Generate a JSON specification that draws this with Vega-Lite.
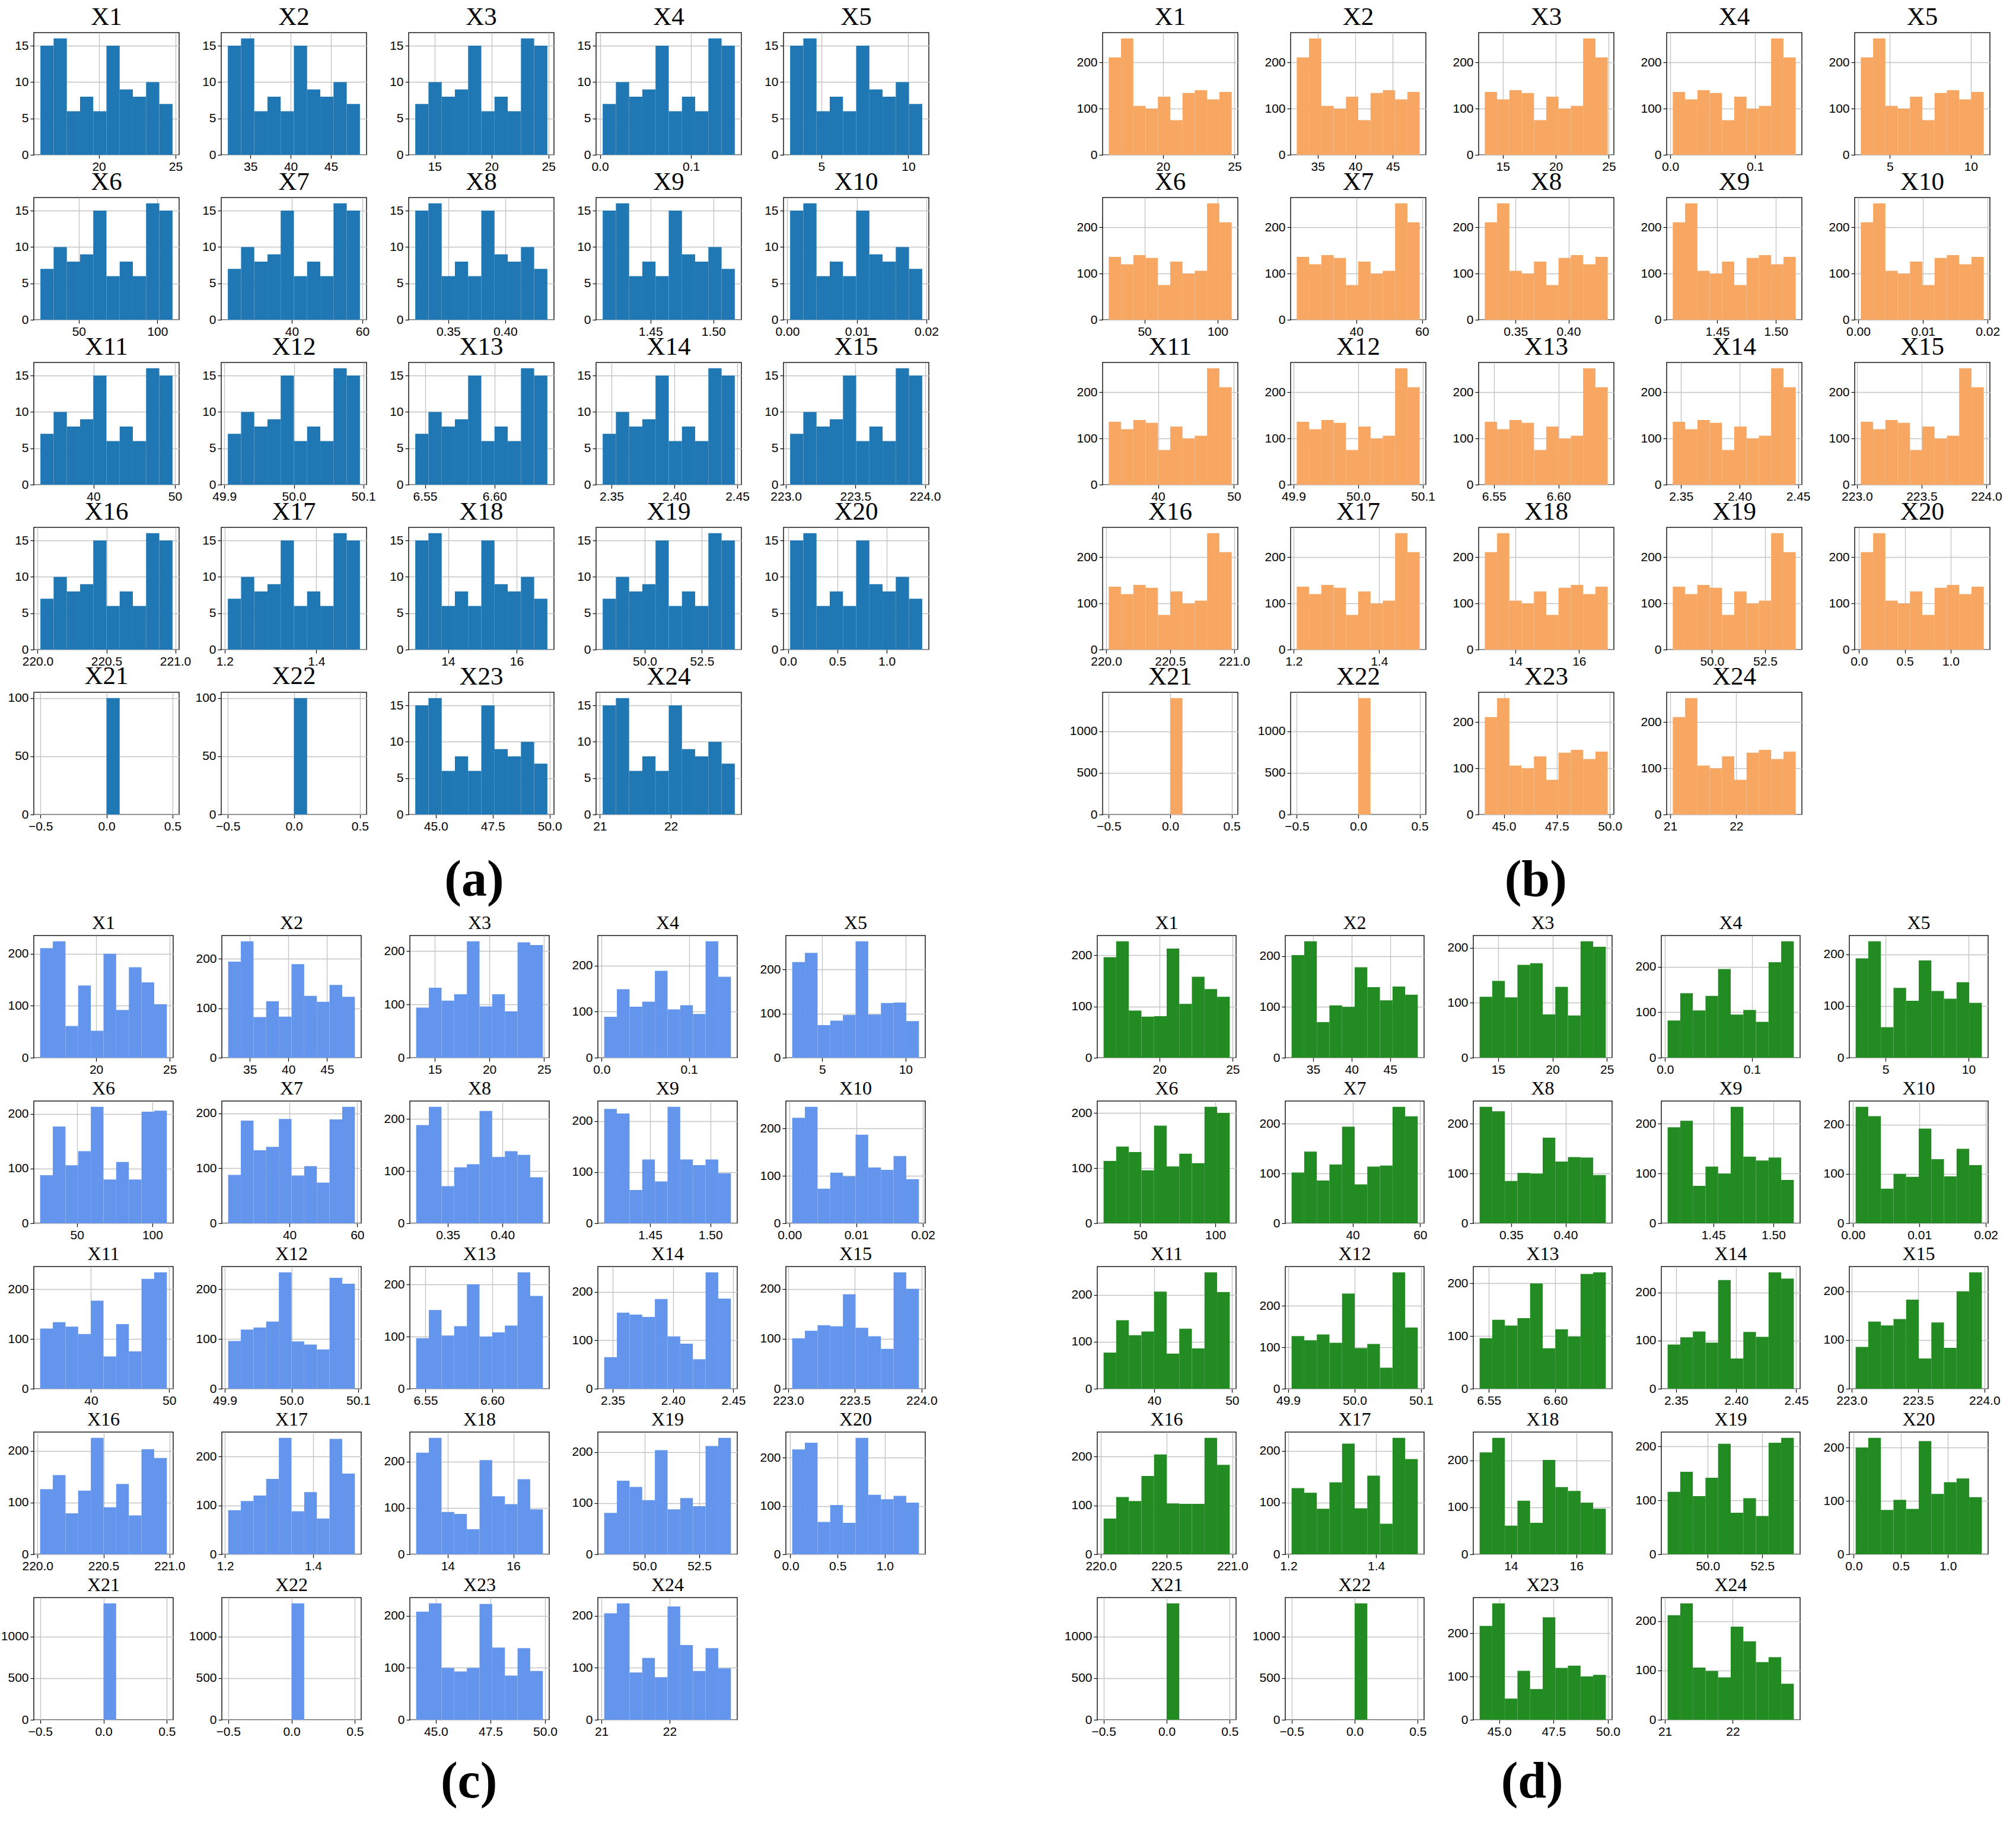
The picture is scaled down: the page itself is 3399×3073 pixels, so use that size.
{
"$schema":"https://vega.github.io/schema/vega-lite/v6.json",
"padding":{"left":0,"top":7,"right":10,"bottom":24},
"background":"white",
"datasets":{
"a":[
{"v":"X1","x0":16.2,"x1":17.06,"c":15},{"v":"X1","x0":17.06,"x1":17.92,"c":16},{"v":"X1","x0":17.92,"x1":18.78,"c":6},{"v":"X1","x0":18.78,"x1":19.64,"c":8},{"v":"X1","x0":19.64,"x1":20.5,"c":6},{"v":"X1","x0":20.5,"x1":21.36,"c":15},{"v":"X1","x0":21.36,"x1":22.22,"c":9},{"v":"X1","x0":22.22,"x1":23.08,"c":8},{"v":"X1","x0":23.08,"x1":23.94,"c":10},{"v":"X1","x0":23.94,"x1":24.8,"c":7},
{"v":"X2","x0":32.2,"x1":33.84,"c":15},{"v":"X2","x0":33.84,"x1":35.48,"c":16},{"v":"X2","x0":35.48,"x1":37.12,"c":6},{"v":"X2","x0":37.12,"x1":38.76,"c":8},{"v":"X2","x0":38.76,"x1":40.4,"c":6},{"v":"X2","x0":40.4,"x1":42.04,"c":15},{"v":"X2","x0":42.04,"x1":43.68,"c":9},{"v":"X2","x0":43.68,"x1":45.32,"c":8},{"v":"X2","x0":45.32,"x1":46.96,"c":10},{"v":"X2","x0":46.96,"x1":48.6,"c":7},
{"v":"X3","x0":13.3,"x1":14.46,"c":7},{"v":"X3","x0":14.46,"x1":15.62,"c":10},{"v":"X3","x0":15.62,"x1":16.78,"c":8},{"v":"X3","x0":16.78,"x1":17.94,"c":9},{"v":"X3","x0":17.94,"x1":19.1,"c":15},{"v":"X3","x0":19.1,"x1":20.26,"c":6},{"v":"X3","x0":20.26,"x1":21.42,"c":8},{"v":"X3","x0":21.42,"x1":22.58,"c":6},{"v":"X3","x0":22.58,"x1":23.74,"c":16},{"v":"X3","x0":23.74,"x1":24.9,"c":15},
{"v":"X4","x0":0.003,"x1":0.0175,"c":7},{"v":"X4","x0":0.0175,"x1":0.032,"c":10},{"v":"X4","x0":0.032,"x1":0.0465,"c":8},{"v":"X4","x0":0.0465,"x1":0.061,"c":9},{"v":"X4","x0":0.061,"x1":0.0755,"c":15},{"v":"X4","x0":0.0755,"x1":0.09,"c":6},{"v":"X4","x0":0.09,"x1":0.1045,"c":8},{"v":"X4","x0":0.1045,"x1":0.119,"c":6},{"v":"X4","x0":0.119,"x1":0.1335,"c":16},{"v":"X4","x0":0.1335,"x1":0.148,"c":15},
{"v":"X5","x0":3.2,"x1":3.96,"c":15},{"v":"X5","x0":3.96,"x1":4.72,"c":16},{"v":"X5","x0":4.72,"x1":5.48,"c":6},{"v":"X5","x0":5.48,"x1":6.24,"c":8},{"v":"X5","x0":6.24,"x1":7,"c":6},{"v":"X5","x0":7,"x1":7.76,"c":15},{"v":"X5","x0":7.76,"x1":8.52,"c":9},{"v":"X5","x0":8.52,"x1":9.28,"c":8},{"v":"X5","x0":9.28,"x1":10.04,"c":10},{"v":"X5","x0":10.04,"x1":10.8,"c":7},
{"v":"X6","x0":25.6,"x1":34,"c":7},{"v":"X6","x0":34,"x1":42.4,"c":10},{"v":"X6","x0":42.4,"x1":50.8,"c":8},{"v":"X6","x0":50.8,"x1":59.2,"c":9},{"v":"X6","x0":59.2,"x1":67.6,"c":15},{"v":"X6","x0":67.6,"x1":76,"c":6},{"v":"X6","x0":76,"x1":84.4,"c":8},{"v":"X6","x0":84.4,"x1":92.8,"c":6},{"v":"X6","x0":92.8,"x1":101.2,"c":16},{"v":"X6","x0":101.2,"x1":109.6,"c":15},
{"v":"X7","x0":21.9,"x1":25.64,"c":7},{"v":"X7","x0":25.64,"x1":29.38,"c":10},{"v":"X7","x0":29.38,"x1":33.12,"c":8},{"v":"X7","x0":33.12,"x1":36.86,"c":9},{"v":"X7","x0":36.86,"x1":40.6,"c":15},{"v":"X7","x0":40.6,"x1":44.34,"c":6},{"v":"X7","x0":44.34,"x1":48.08,"c":8},{"v":"X7","x0":48.08,"x1":51.82,"c":6},{"v":"X7","x0":51.82,"x1":55.56,"c":16},{"v":"X7","x0":55.56,"x1":59.3,"c":15},
{"v":"X8","x0":0.321,"x1":0.3326,"c":15},{"v":"X8","x0":0.3326,"x1":0.3442,"c":16},{"v":"X8","x0":0.3442,"x1":0.3558,"c":6},{"v":"X8","x0":0.3558,"x1":0.3674,"c":8},{"v":"X8","x0":0.3674,"x1":0.379,"c":6},{"v":"X8","x0":0.379,"x1":0.3906,"c":15},{"v":"X8","x0":0.3906,"x1":0.4022,"c":9},{"v":"X8","x0":0.4022,"x1":0.4138,"c":8},{"v":"X8","x0":0.4138,"x1":0.4254,"c":10},{"v":"X8","x0":0.4254,"x1":0.437,"c":7},
{"v":"X9","x0":1.412,"x1":1.4225,"c":15},{"v":"X9","x0":1.4225,"x1":1.433,"c":16},{"v":"X9","x0":1.433,"x1":1.4435,"c":6},{"v":"X9","x0":1.4435,"x1":1.454,"c":8},{"v":"X9","x0":1.454,"x1":1.4645,"c":6},{"v":"X9","x0":1.4645,"x1":1.475,"c":15},{"v":"X9","x0":1.475,"x1":1.4855,"c":9},{"v":"X9","x0":1.4855,"x1":1.496,"c":8},{"v":"X9","x0":1.496,"x1":1.5065,"c":10},{"v":"X9","x0":1.5065,"x1":1.517,"c":7},
{"v":"X10","x0":0.0004,"x1":0.0023,"c":15},{"v":"X10","x0":0.0023,"x1":0.0042,"c":16},{"v":"X10","x0":0.0042,"x1":0.0061,"c":6},{"v":"X10","x0":0.0061,"x1":0.008,"c":8},{"v":"X10","x0":0.008,"x1":0.0099,"c":6},{"v":"X10","x0":0.0099,"x1":0.0118,"c":15},{"v":"X10","x0":0.0118,"x1":0.0137,"c":9},{"v":"X10","x0":0.0137,"x1":0.0156,"c":8},{"v":"X10","x0":0.0156,"x1":0.0175,"c":10},{"v":"X10","x0":0.0175,"x1":0.0194,"c":7},
{"v":"X11","x0":33.5,"x1":35.12,"c":7},{"v":"X11","x0":35.12,"x1":36.74,"c":10},{"v":"X11","x0":36.74,"x1":38.36,"c":8},{"v":"X11","x0":38.36,"x1":39.98,"c":9},{"v":"X11","x0":39.98,"x1":41.6,"c":15},{"v":"X11","x0":41.6,"x1":43.22,"c":6},{"v":"X11","x0":43.22,"x1":44.84,"c":8},{"v":"X11","x0":44.84,"x1":46.46,"c":6},{"v":"X11","x0":46.46,"x1":48.08,"c":16},{"v":"X11","x0":48.08,"x1":49.7,"c":15},
{"v":"X12","x0":49.905,"x1":49.924,"c":7},{"v":"X12","x0":49.924,"x1":49.943,"c":10},{"v":"X12","x0":49.943,"x1":49.962,"c":8},{"v":"X12","x0":49.962,"x1":49.981,"c":9},{"v":"X12","x0":49.981,"x1":50,"c":15},{"v":"X12","x0":50,"x1":50.019,"c":6},{"v":"X12","x0":50.019,"x1":50.038,"c":8},{"v":"X12","x0":50.038,"x1":50.057,"c":6},{"v":"X12","x0":50.057,"x1":50.076,"c":16},{"v":"X12","x0":50.076,"x1":50.095,"c":15},
{"v":"X13","x0":6.543,"x1":6.5525,"c":7},{"v":"X13","x0":6.5525,"x1":6.562,"c":10},{"v":"X13","x0":6.562,"x1":6.5715,"c":8},{"v":"X13","x0":6.5715,"x1":6.581,"c":9},{"v":"X13","x0":6.581,"x1":6.5905,"c":15},{"v":"X13","x0":6.5905,"x1":6.6,"c":6},{"v":"X13","x0":6.6,"x1":6.6095,"c":8},{"v":"X13","x0":6.6095,"x1":6.619,"c":6},{"v":"X13","x0":6.619,"x1":6.6285,"c":16},{"v":"X13","x0":6.6285,"x1":6.638,"c":15},
{"v":"X14","x0":2.343,"x1":2.3535,"c":7},{"v":"X14","x0":2.3535,"x1":2.364,"c":10},{"v":"X14","x0":2.364,"x1":2.3745,"c":8},{"v":"X14","x0":2.3745,"x1":2.385,"c":9},{"v":"X14","x0":2.385,"x1":2.3955,"c":15},{"v":"X14","x0":2.3955,"x1":2.406,"c":6},{"v":"X14","x0":2.406,"x1":2.4165,"c":8},{"v":"X14","x0":2.4165,"x1":2.427,"c":6},{"v":"X14","x0":2.427,"x1":2.4375,"c":16},{"v":"X14","x0":2.4375,"x1":2.448,"c":15},
{"v":"X15","x0":223.03,"x1":223.125,"c":7},{"v":"X15","x0":223.125,"x1":223.22,"c":10},{"v":"X15","x0":223.22,"x1":223.315,"c":8},{"v":"X15","x0":223.315,"x1":223.41,"c":9},{"v":"X15","x0":223.41,"x1":223.505,"c":15},{"v":"X15","x0":223.505,"x1":223.6,"c":6},{"v":"X15","x0":223.6,"x1":223.695,"c":8},{"v":"X15","x0":223.695,"x1":223.79,"c":6},{"v":"X15","x0":223.79,"x1":223.885,"c":16},{"v":"X15","x0":223.885,"x1":223.98,"c":15},
{"v":"X16","x0":220.02,"x1":220.116,"c":7},{"v":"X16","x0":220.116,"x1":220.212,"c":10},{"v":"X16","x0":220.212,"x1":220.308,"c":8},{"v":"X16","x0":220.308,"x1":220.404,"c":9},{"v":"X16","x0":220.404,"x1":220.5,"c":15},{"v":"X16","x0":220.5,"x1":220.596,"c":6},{"v":"X16","x0":220.596,"x1":220.692,"c":8},{"v":"X16","x0":220.692,"x1":220.788,"c":6},{"v":"X16","x0":220.788,"x1":220.884,"c":16},{"v":"X16","x0":220.884,"x1":220.98,"c":15},
{"v":"X17","x0":1.207,"x1":1.2358,"c":7},{"v":"X17","x0":1.2358,"x1":1.2646,"c":10},{"v":"X17","x0":1.2646,"x1":1.2934,"c":8},{"v":"X17","x0":1.2934,"x1":1.3222,"c":9},{"v":"X17","x0":1.3222,"x1":1.351,"c":15},{"v":"X17","x0":1.351,"x1":1.3798,"c":6},{"v":"X17","x0":1.3798,"x1":1.4086,"c":8},{"v":"X17","x0":1.4086,"x1":1.4374,"c":6},{"v":"X17","x0":1.4374,"x1":1.4662,"c":16},{"v":"X17","x0":1.4662,"x1":1.495,"c":15},
{"v":"X18","x0":13.04,"x1":13.426,"c":15},{"v":"X18","x0":13.426,"x1":13.812,"c":16},{"v":"X18","x0":13.812,"x1":14.198,"c":6},{"v":"X18","x0":14.198,"x1":14.584,"c":8},{"v":"X18","x0":14.584,"x1":14.97,"c":6},{"v":"X18","x0":14.97,"x1":15.356,"c":15},{"v":"X18","x0":15.356,"x1":15.742,"c":9},{"v":"X18","x0":15.742,"x1":16.128,"c":8},{"v":"X18","x0":16.128,"x1":16.514,"c":10},{"v":"X18","x0":16.514,"x1":16.9,"c":7},
{"v":"X19","x0":48.16,"x1":48.738,"c":7},{"v":"X19","x0":48.738,"x1":49.316,"c":10},{"v":"X19","x0":49.316,"x1":49.894,"c":8},{"v":"X19","x0":49.894,"x1":50.472,"c":9},{"v":"X19","x0":50.472,"x1":51.05,"c":15},{"v":"X19","x0":51.05,"x1":51.628,"c":6},{"v":"X19","x0":51.628,"x1":52.206,"c":8},{"v":"X19","x0":52.206,"x1":52.784,"c":6},{"v":"X19","x0":52.784,"x1":53.362,"c":16},{"v":"X19","x0":53.362,"x1":53.94,"c":15},
{"v":"X20","x0":0.02,"x1":0.154,"c":15},{"v":"X20","x0":0.154,"x1":0.288,"c":16},{"v":"X20","x0":0.288,"x1":0.422,"c":6},{"v":"X20","x0":0.422,"x1":0.556,"c":8},{"v":"X20","x0":0.556,"x1":0.69,"c":6},{"v":"X20","x0":0.69,"x1":0.824,"c":15},{"v":"X20","x0":0.824,"x1":0.958,"c":9},{"v":"X20","x0":0.958,"x1":1.092,"c":8},{"v":"X20","x0":1.092,"x1":1.226,"c":10},{"v":"X20","x0":1.226,"x1":1.36,"c":7},
{"v":"X21","x0":0,"x1":0.1,"c":100},{"v":"X22","x0":0,"x1":0.1,"c":100},
{"v":"X23","x0":44.1,"x1":44.68,"c":15},{"v":"X23","x0":44.68,"x1":45.26,"c":16},{"v":"X23","x0":45.26,"x1":45.84,"c":6},{"v":"X23","x0":45.84,"x1":46.42,"c":8},{"v":"X23","x0":46.42,"x1":47,"c":6},{"v":"X23","x0":47,"x1":47.58,"c":15},{"v":"X23","x0":47.58,"x1":48.16,"c":9},{"v":"X23","x0":48.16,"x1":48.74,"c":8},{"v":"X23","x0":48.74,"x1":49.32,"c":10},{"v":"X23","x0":49.32,"x1":49.9,"c":7},
{"v":"X24","x0":21.04,"x1":21.226,"c":15},{"v":"X24","x0":21.226,"x1":21.412,"c":16},{"v":"X24","x0":21.412,"x1":21.598,"c":6},{"v":"X24","x0":21.598,"x1":21.784,"c":8},{"v":"X24","x0":21.784,"x1":21.97,"c":6},{"v":"X24","x0":21.97,"x1":22.156,"c":15},{"v":"X24","x0":22.156,"x1":22.342,"c":9},{"v":"X24","x0":22.342,"x1":22.528,"c":8},{"v":"X24","x0":22.528,"x1":22.714,"c":10},{"v":"X24","x0":22.714,"x1":22.9,"c":7}
],
"b":[
{"v":"X1","x0":16.2,"x1":17.06,"c":211},{"v":"X1","x0":17.06,"x1":17.92,"c":252},{"v":"X1","x0":17.92,"x1":18.78,"c":106},{"v":"X1","x0":18.78,"x1":19.64,"c":100},{"v":"X1","x0":19.64,"x1":20.5,"c":126},{"v":"X1","x0":20.5,"x1":21.36,"c":75},{"v":"X1","x0":21.36,"x1":22.22,"c":134},{"v":"X1","x0":22.22,"x1":23.08,"c":140},{"v":"X1","x0":23.08,"x1":23.94,"c":120},{"v":"X1","x0":23.94,"x1":24.8,"c":136},
{"v":"X2","x0":32.2,"x1":33.84,"c":211},{"v":"X2","x0":33.84,"x1":35.48,"c":252},{"v":"X2","x0":35.48,"x1":37.12,"c":106},{"v":"X2","x0":37.12,"x1":38.76,"c":100},{"v":"X2","x0":38.76,"x1":40.4,"c":126},{"v":"X2","x0":40.4,"x1":42.04,"c":75},{"v":"X2","x0":42.04,"x1":43.68,"c":134},{"v":"X2","x0":43.68,"x1":45.32,"c":140},{"v":"X2","x0":45.32,"x1":46.96,"c":120},{"v":"X2","x0":46.96,"x1":48.6,"c":136},
{"v":"X3","x0":13.3,"x1":14.46,"c":136},{"v":"X3","x0":14.46,"x1":15.62,"c":120},{"v":"X3","x0":15.62,"x1":16.78,"c":140},{"v":"X3","x0":16.78,"x1":17.94,"c":134},{"v":"X3","x0":17.94,"x1":19.1,"c":75},{"v":"X3","x0":19.1,"x1":20.26,"c":126},{"v":"X3","x0":20.26,"x1":21.42,"c":100},{"v":"X3","x0":21.42,"x1":22.58,"c":106},{"v":"X3","x0":22.58,"x1":23.74,"c":252},{"v":"X3","x0":23.74,"x1":24.9,"c":211},
{"v":"X4","x0":0.003,"x1":0.0175,"c":136},{"v":"X4","x0":0.0175,"x1":0.032,"c":120},{"v":"X4","x0":0.032,"x1":0.0465,"c":140},{"v":"X4","x0":0.0465,"x1":0.061,"c":134},{"v":"X4","x0":0.061,"x1":0.0755,"c":75},{"v":"X4","x0":0.0755,"x1":0.09,"c":126},{"v":"X4","x0":0.09,"x1":0.1045,"c":100},{"v":"X4","x0":0.1045,"x1":0.119,"c":106},{"v":"X4","x0":0.119,"x1":0.1335,"c":252},{"v":"X4","x0":0.1335,"x1":0.148,"c":211},
{"v":"X5","x0":3.2,"x1":3.96,"c":211},{"v":"X5","x0":3.96,"x1":4.72,"c":252},{"v":"X5","x0":4.72,"x1":5.48,"c":106},{"v":"X5","x0":5.48,"x1":6.24,"c":100},{"v":"X5","x0":6.24,"x1":7,"c":126},{"v":"X5","x0":7,"x1":7.76,"c":75},{"v":"X5","x0":7.76,"x1":8.52,"c":134},{"v":"X5","x0":8.52,"x1":9.28,"c":140},{"v":"X5","x0":9.28,"x1":10.04,"c":120},{"v":"X5","x0":10.04,"x1":10.8,"c":136},
{"v":"X6","x0":25.6,"x1":34,"c":136},{"v":"X6","x0":34,"x1":42.4,"c":120},{"v":"X6","x0":42.4,"x1":50.8,"c":140},{"v":"X6","x0":50.8,"x1":59.2,"c":134},{"v":"X6","x0":59.2,"x1":67.6,"c":75},{"v":"X6","x0":67.6,"x1":76,"c":126},{"v":"X6","x0":76,"x1":84.4,"c":100},{"v":"X6","x0":84.4,"x1":92.8,"c":106},{"v":"X6","x0":92.8,"x1":101.2,"c":252},{"v":"X6","x0":101.2,"x1":109.6,"c":211},
{"v":"X7","x0":21.9,"x1":25.64,"c":136},{"v":"X7","x0":25.64,"x1":29.38,"c":120},{"v":"X7","x0":29.38,"x1":33.12,"c":140},{"v":"X7","x0":33.12,"x1":36.86,"c":134},{"v":"X7","x0":36.86,"x1":40.6,"c":75},{"v":"X7","x0":40.6,"x1":44.34,"c":126},{"v":"X7","x0":44.34,"x1":48.08,"c":100},{"v":"X7","x0":48.08,"x1":51.82,"c":106},{"v":"X7","x0":51.82,"x1":55.56,"c":252},{"v":"X7","x0":55.56,"x1":59.3,"c":211},
{"v":"X8","x0":0.321,"x1":0.3326,"c":211},{"v":"X8","x0":0.3326,"x1":0.3442,"c":252},{"v":"X8","x0":0.3442,"x1":0.3558,"c":106},{"v":"X8","x0":0.3558,"x1":0.3674,"c":100},{"v":"X8","x0":0.3674,"x1":0.379,"c":126},{"v":"X8","x0":0.379,"x1":0.3906,"c":75},{"v":"X8","x0":0.3906,"x1":0.4022,"c":134},{"v":"X8","x0":0.4022,"x1":0.4138,"c":140},{"v":"X8","x0":0.4138,"x1":0.4254,"c":120},{"v":"X8","x0":0.4254,"x1":0.437,"c":136},
{"v":"X9","x0":1.412,"x1":1.4225,"c":211},{"v":"X9","x0":1.4225,"x1":1.433,"c":252},{"v":"X9","x0":1.433,"x1":1.4435,"c":106},{"v":"X9","x0":1.4435,"x1":1.454,"c":100},{"v":"X9","x0":1.454,"x1":1.4645,"c":126},{"v":"X9","x0":1.4645,"x1":1.475,"c":75},{"v":"X9","x0":1.475,"x1":1.4855,"c":134},{"v":"X9","x0":1.4855,"x1":1.496,"c":140},{"v":"X9","x0":1.496,"x1":1.5065,"c":120},{"v":"X9","x0":1.5065,"x1":1.517,"c":136},
{"v":"X10","x0":0.0004,"x1":0.0023,"c":211},{"v":"X10","x0":0.0023,"x1":0.0042,"c":252},{"v":"X10","x0":0.0042,"x1":0.0061,"c":106},{"v":"X10","x0":0.0061,"x1":0.008,"c":100},{"v":"X10","x0":0.008,"x1":0.0099,"c":126},{"v":"X10","x0":0.0099,"x1":0.0118,"c":75},{"v":"X10","x0":0.0118,"x1":0.0137,"c":134},{"v":"X10","x0":0.0137,"x1":0.0156,"c":140},{"v":"X10","x0":0.0156,"x1":0.0175,"c":120},{"v":"X10","x0":0.0175,"x1":0.0194,"c":136},
{"v":"X11","x0":33.5,"x1":35.12,"c":136},{"v":"X11","x0":35.12,"x1":36.74,"c":120},{"v":"X11","x0":36.74,"x1":38.36,"c":140},{"v":"X11","x0":38.36,"x1":39.98,"c":134},{"v":"X11","x0":39.98,"x1":41.6,"c":75},{"v":"X11","x0":41.6,"x1":43.22,"c":126},{"v":"X11","x0":43.22,"x1":44.84,"c":100},{"v":"X11","x0":44.84,"x1":46.46,"c":106},{"v":"X11","x0":46.46,"x1":48.08,"c":252},{"v":"X11","x0":48.08,"x1":49.7,"c":211},
{"v":"X12","x0":49.905,"x1":49.924,"c":136},{"v":"X12","x0":49.924,"x1":49.943,"c":120},{"v":"X12","x0":49.943,"x1":49.962,"c":140},{"v":"X12","x0":49.962,"x1":49.981,"c":134},{"v":"X12","x0":49.981,"x1":50,"c":75},{"v":"X12","x0":50,"x1":50.019,"c":126},{"v":"X12","x0":50.019,"x1":50.038,"c":100},{"v":"X12","x0":50.038,"x1":50.057,"c":106},{"v":"X12","x0":50.057,"x1":50.076,"c":252},{"v":"X12","x0":50.076,"x1":50.095,"c":211},
{"v":"X13","x0":6.543,"x1":6.5525,"c":136},{"v":"X13","x0":6.5525,"x1":6.562,"c":120},{"v":"X13","x0":6.562,"x1":6.5715,"c":140},{"v":"X13","x0":6.5715,"x1":6.581,"c":134},{"v":"X13","x0":6.581,"x1":6.5905,"c":75},{"v":"X13","x0":6.5905,"x1":6.6,"c":126},{"v":"X13","x0":6.6,"x1":6.6095,"c":100},{"v":"X13","x0":6.6095,"x1":6.619,"c":106},{"v":"X13","x0":6.619,"x1":6.6285,"c":252},{"v":"X13","x0":6.6285,"x1":6.638,"c":211},
{"v":"X14","x0":2.343,"x1":2.3535,"c":136},{"v":"X14","x0":2.3535,"x1":2.364,"c":120},{"v":"X14","x0":2.364,"x1":2.3745,"c":140},{"v":"X14","x0":2.3745,"x1":2.385,"c":134},{"v":"X14","x0":2.385,"x1":2.3955,"c":75},{"v":"X14","x0":2.3955,"x1":2.406,"c":126},{"v":"X14","x0":2.406,"x1":2.4165,"c":100},{"v":"X14","x0":2.4165,"x1":2.427,"c":106},{"v":"X14","x0":2.427,"x1":2.4375,"c":252},{"v":"X14","x0":2.4375,"x1":2.448,"c":211},
{"v":"X15","x0":223.03,"x1":223.125,"c":136},{"v":"X15","x0":223.125,"x1":223.22,"c":120},{"v":"X15","x0":223.22,"x1":223.315,"c":140},{"v":"X15","x0":223.315,"x1":223.41,"c":134},{"v":"X15","x0":223.41,"x1":223.505,"c":75},{"v":"X15","x0":223.505,"x1":223.6,"c":126},{"v":"X15","x0":223.6,"x1":223.695,"c":100},{"v":"X15","x0":223.695,"x1":223.79,"c":106},{"v":"X15","x0":223.79,"x1":223.885,"c":252},{"v":"X15","x0":223.885,"x1":223.98,"c":211},
{"v":"X16","x0":220.02,"x1":220.116,"c":136},{"v":"X16","x0":220.116,"x1":220.212,"c":120},{"v":"X16","x0":220.212,"x1":220.308,"c":140},{"v":"X16","x0":220.308,"x1":220.404,"c":134},{"v":"X16","x0":220.404,"x1":220.5,"c":75},{"v":"X16","x0":220.5,"x1":220.596,"c":126},{"v":"X16","x0":220.596,"x1":220.692,"c":100},{"v":"X16","x0":220.692,"x1":220.788,"c":106},{"v":"X16","x0":220.788,"x1":220.884,"c":252},{"v":"X16","x0":220.884,"x1":220.98,"c":211},
{"v":"X17","x0":1.207,"x1":1.2358,"c":136},{"v":"X17","x0":1.2358,"x1":1.2646,"c":120},{"v":"X17","x0":1.2646,"x1":1.2934,"c":140},{"v":"X17","x0":1.2934,"x1":1.3222,"c":134},{"v":"X17","x0":1.3222,"x1":1.351,"c":75},{"v":"X17","x0":1.351,"x1":1.3798,"c":126},{"v":"X17","x0":1.3798,"x1":1.4086,"c":100},{"v":"X17","x0":1.4086,"x1":1.4374,"c":106},{"v":"X17","x0":1.4374,"x1":1.4662,"c":252},{"v":"X17","x0":1.4662,"x1":1.495,"c":211},
{"v":"X18","x0":13.04,"x1":13.426,"c":211},{"v":"X18","x0":13.426,"x1":13.812,"c":252},{"v":"X18","x0":13.812,"x1":14.198,"c":106},{"v":"X18","x0":14.198,"x1":14.584,"c":100},{"v":"X18","x0":14.584,"x1":14.97,"c":126},{"v":"X18","x0":14.97,"x1":15.356,"c":75},{"v":"X18","x0":15.356,"x1":15.742,"c":134},{"v":"X18","x0":15.742,"x1":16.128,"c":140},{"v":"X18","x0":16.128,"x1":16.514,"c":120},{"v":"X18","x0":16.514,"x1":16.9,"c":136},
{"v":"X19","x0":48.16,"x1":48.738,"c":136},{"v":"X19","x0":48.738,"x1":49.316,"c":120},{"v":"X19","x0":49.316,"x1":49.894,"c":140},{"v":"X19","x0":49.894,"x1":50.472,"c":134},{"v":"X19","x0":50.472,"x1":51.05,"c":75},{"v":"X19","x0":51.05,"x1":51.628,"c":126},{"v":"X19","x0":51.628,"x1":52.206,"c":100},{"v":"X19","x0":52.206,"x1":52.784,"c":106},{"v":"X19","x0":52.784,"x1":53.362,"c":252},{"v":"X19","x0":53.362,"x1":53.94,"c":211},
{"v":"X20","x0":0.02,"x1":0.154,"c":211},{"v":"X20","x0":0.154,"x1":0.288,"c":252},{"v":"X20","x0":0.288,"x1":0.422,"c":106},{"v":"X20","x0":0.422,"x1":0.556,"c":100},{"v":"X20","x0":0.556,"x1":0.69,"c":126},{"v":"X20","x0":0.69,"x1":0.824,"c":75},{"v":"X20","x0":0.824,"x1":0.958,"c":134},{"v":"X20","x0":0.958,"x1":1.092,"c":140},{"v":"X20","x0":1.092,"x1":1.226,"c":120},{"v":"X20","x0":1.226,"x1":1.36,"c":136},
{"v":"X21","x0":0,"x1":0.1,"c":1400},{"v":"X22","x0":0,"x1":0.1,"c":1400},
{"v":"X23","x0":44.1,"x1":44.68,"c":211},{"v":"X23","x0":44.68,"x1":45.26,"c":252},{"v":"X23","x0":45.26,"x1":45.84,"c":106},{"v":"X23","x0":45.84,"x1":46.42,"c":100},{"v":"X23","x0":46.42,"x1":47,"c":126},{"v":"X23","x0":47,"x1":47.58,"c":75},{"v":"X23","x0":47.58,"x1":48.16,"c":134},{"v":"X23","x0":48.16,"x1":48.74,"c":140},{"v":"X23","x0":48.74,"x1":49.32,"c":120},{"v":"X23","x0":49.32,"x1":49.9,"c":136},
{"v":"X24","x0":21.04,"x1":21.226,"c":211},{"v":"X24","x0":21.226,"x1":21.412,"c":252},{"v":"X24","x0":21.412,"x1":21.598,"c":106},{"v":"X24","x0":21.598,"x1":21.784,"c":100},{"v":"X24","x0":21.784,"x1":21.97,"c":126},{"v":"X24","x0":21.97,"x1":22.156,"c":75},{"v":"X24","x0":22.156,"x1":22.342,"c":134},{"v":"X24","x0":22.342,"x1":22.528,"c":140},{"v":"X24","x0":22.528,"x1":22.714,"c":120},{"v":"X24","x0":22.714,"x1":22.9,"c":136}
],
"c":[
{"v":"X1","x0":16.2,"x1":17.06,"c":211},{"v":"X1","x0":17.06,"x1":17.92,"c":224},{"v":"X1","x0":17.92,"x1":18.78,"c":61},{"v":"X1","x0":18.78,"x1":19.64,"c":139},{"v":"X1","x0":19.64,"x1":20.5,"c":52},{"v":"X1","x0":20.5,"x1":21.36,"c":200},{"v":"X1","x0":21.36,"x1":22.22,"c":92},{"v":"X1","x0":22.22,"x1":23.08,"c":174},{"v":"X1","x0":23.08,"x1":23.94,"c":145},{"v":"X1","x0":23.94,"x1":24.8,"c":103},
{"v":"X2","x0":32.2,"x1":33.84,"c":194},{"v":"X2","x0":33.84,"x1":35.48,"c":235},{"v":"X2","x0":35.48,"x1":37.12,"c":82},{"v":"X2","x0":37.12,"x1":38.76,"c":114},{"v":"X2","x0":38.76,"x1":40.4,"c":83},{"v":"X2","x0":40.4,"x1":42.04,"c":189},{"v":"X2","x0":42.04,"x1":43.68,"c":125},{"v":"X2","x0":43.68,"x1":45.32,"c":113},{"v":"X2","x0":45.32,"x1":46.96,"c":147},{"v":"X2","x0":46.96,"x1":48.6,"c":123},
{"v":"X3","x0":13.3,"x1":14.46,"c":94},{"v":"X3","x0":14.46,"x1":15.62,"c":131},{"v":"X3","x0":15.62,"x1":16.78,"c":107},{"v":"X3","x0":16.78,"x1":17.94,"c":119},{"v":"X3","x0":17.94,"x1":19.1,"c":218},{"v":"X3","x0":19.1,"x1":20.26,"c":96},{"v":"X3","x0":20.26,"x1":21.42,"c":119},{"v":"X3","x0":21.42,"x1":22.58,"c":87},{"v":"X3","x0":22.58,"x1":23.74,"c":216},{"v":"X3","x0":23.74,"x1":24.9,"c":211},
{"v":"X4","x0":0.003,"x1":0.0175,"c":89},{"v":"X4","x0":0.0175,"x1":0.032,"c":149},{"v":"X4","x0":0.032,"x1":0.0465,"c":111},{"v":"X4","x0":0.0465,"x1":0.061,"c":122},{"v":"X4","x0":0.061,"x1":0.0755,"c":189},{"v":"X4","x0":0.0755,"x1":0.09,"c":105},{"v":"X4","x0":0.09,"x1":0.1045,"c":114},{"v":"X4","x0":0.1045,"x1":0.119,"c":95},{"v":"X4","x0":0.119,"x1":0.1335,"c":253},{"v":"X4","x0":0.1335,"x1":0.148,"c":176},
{"v":"X5","x0":3.2,"x1":3.96,"c":217},{"v":"X5","x0":3.96,"x1":4.72,"c":238},{"v":"X5","x0":4.72,"x1":5.48,"c":74},{"v":"X5","x0":5.48,"x1":6.24,"c":84},{"v":"X5","x0":6.24,"x1":7,"c":97},{"v":"X5","x0":7,"x1":7.76,"c":264},{"v":"X5","x0":7.76,"x1":8.52,"c":98},{"v":"X5","x0":8.52,"x1":9.28,"c":124},{"v":"X5","x0":9.28,"x1":10.04,"c":125},{"v":"X5","x0":10.04,"x1":10.8,"c":83},
{"v":"X6","x0":25.6,"x1":34,"c":88},{"v":"X6","x0":34,"x1":42.4,"c":177},{"v":"X6","x0":42.4,"x1":50.8,"c":106},{"v":"X6","x0":50.8,"x1":59.2,"c":132},{"v":"X6","x0":59.2,"x1":67.6,"c":213},{"v":"X6","x0":67.6,"x1":76,"c":80},{"v":"X6","x0":76,"x1":84.4,"c":112},{"v":"X6","x0":84.4,"x1":92.8,"c":80},{"v":"X6","x0":92.8,"x1":101.2,"c":204},{"v":"X6","x0":101.2,"x1":109.6,"c":206},
{"v":"X7","x0":21.9,"x1":25.64,"c":88},{"v":"X7","x0":25.64,"x1":29.38,"c":187},{"v":"X7","x0":29.38,"x1":33.12,"c":133},{"v":"X7","x0":33.12,"x1":36.86,"c":139},{"v":"X7","x0":36.86,"x1":40.6,"c":190},{"v":"X7","x0":40.6,"x1":44.34,"c":87},{"v":"X7","x0":44.34,"x1":48.08,"c":104},{"v":"X7","x0":48.08,"x1":51.82,"c":74},{"v":"X7","x0":51.82,"x1":55.56,"c":189},{"v":"X7","x0":55.56,"x1":59.3,"c":212},
{"v":"X8","x0":0.321,"x1":0.3326,"c":188},{"v":"X8","x0":0.3326,"x1":0.3442,"c":223},{"v":"X8","x0":0.3442,"x1":0.3558,"c":71},{"v":"X8","x0":0.3558,"x1":0.3674,"c":107},{"v":"X8","x0":0.3674,"x1":0.379,"c":113},{"v":"X8","x0":0.379,"x1":0.3906,"c":215},{"v":"X8","x0":0.3906,"x1":0.4022,"c":127},{"v":"X8","x0":0.4022,"x1":0.4138,"c":138},{"v":"X8","x0":0.4138,"x1":0.4254,"c":131},{"v":"X8","x0":0.4254,"x1":0.437,"c":88},
{"v":"X9","x0":1.412,"x1":1.4225,"c":224},{"v":"X9","x0":1.4225,"x1":1.433,"c":215},{"v":"X9","x0":1.433,"x1":1.4435,"c":65},{"v":"X9","x0":1.4435,"x1":1.454,"c":125},{"v":"X9","x0":1.454,"x1":1.4645,"c":82},{"v":"X9","x0":1.4645,"x1":1.475,"c":228},{"v":"X9","x0":1.475,"x1":1.4855,"c":125},{"v":"X9","x0":1.4855,"x1":1.496,"c":114},{"v":"X9","x0":1.496,"x1":1.5065,"c":125},{"v":"X9","x0":1.5065,"x1":1.517,"c":98},
{"v":"X10","x0":0.0004,"x1":0.0023,"c":223},{"v":"X10","x0":0.0023,"x1":0.0042,"c":246},{"v":"X10","x0":0.0042,"x1":0.0061,"c":73},{"v":"X10","x0":0.0061,"x1":0.008,"c":107},{"v":"X10","x0":0.008,"x1":0.0099,"c":99},{"v":"X10","x0":0.0099,"x1":0.0118,"c":187},{"v":"X10","x0":0.0118,"x1":0.0137,"c":118},{"v":"X10","x0":0.0137,"x1":0.0156,"c":113},{"v":"X10","x0":0.0156,"x1":0.0175,"c":142},{"v":"X10","x0":0.0175,"x1":0.0194,"c":93},
{"v":"X11","x0":33.5,"x1":35.12,"c":121},{"v":"X11","x0":35.12,"x1":36.74,"c":134},{"v":"X11","x0":36.74,"x1":38.36,"c":125},{"v":"X11","x0":38.36,"x1":39.98,"c":110},{"v":"X11","x0":39.98,"x1":41.6,"c":177},{"v":"X11","x0":41.6,"x1":43.22,"c":65},{"v":"X11","x0":43.22,"x1":44.84,"c":130},{"v":"X11","x0":44.84,"x1":46.46,"c":75},{"v":"X11","x0":46.46,"x1":48.08,"c":221},{"v":"X11","x0":48.08,"x1":49.7,"c":234},
{"v":"X12","x0":49.905,"x1":49.924,"c":96},{"v":"X12","x0":49.924,"x1":49.943,"c":119},{"v":"X12","x0":49.943,"x1":49.962,"c":123},{"v":"X12","x0":49.962,"x1":49.981,"c":135},{"v":"X12","x0":49.981,"x1":50,"c":234},{"v":"X12","x0":50,"x1":50.019,"c":95},{"v":"X12","x0":50.019,"x1":50.038,"c":89},{"v":"X12","x0":50.038,"x1":50.057,"c":79},{"v":"X12","x0":50.057,"x1":50.076,"c":223},{"v":"X12","x0":50.076,"x1":50.095,"c":211},
{"v":"X13","x0":6.543,"x1":6.5525,"c":97},{"v":"X13","x0":6.5525,"x1":6.562,"c":151},{"v":"X13","x0":6.562,"x1":6.5715,"c":102},{"v":"X13","x0":6.5715,"x1":6.581,"c":120},{"v":"X13","x0":6.581,"x1":6.5905,"c":200},{"v":"X13","x0":6.5905,"x1":6.6,"c":100},{"v":"X13","x0":6.6,"x1":6.6095,"c":108},{"v":"X13","x0":6.6095,"x1":6.619,"c":121},{"v":"X13","x0":6.619,"x1":6.6285,"c":223},{"v":"X13","x0":6.6285,"x1":6.638,"c":178},
{"v":"X14","x0":2.343,"x1":2.3535,"c":65},{"v":"X14","x0":2.3535,"x1":2.364,"c":157},{"v":"X14","x0":2.364,"x1":2.3745,"c":153},{"v":"X14","x0":2.3745,"x1":2.385,"c":148},{"v":"X14","x0":2.385,"x1":2.3955,"c":185},{"v":"X14","x0":2.3955,"x1":2.406,"c":108},{"v":"X14","x0":2.406,"x1":2.4165,"c":93},{"v":"X14","x0":2.4165,"x1":2.427,"c":61},{"v":"X14","x0":2.427,"x1":2.4375,"c":240},{"v":"X14","x0":2.4375,"x1":2.448,"c":186},
{"v":"X15","x0":223.03,"x1":223.125,"c":101},{"v":"X15","x0":223.125,"x1":223.22,"c":116},{"v":"X15","x0":223.22,"x1":223.315,"c":127},{"v":"X15","x0":223.315,"x1":223.41,"c":125},{"v":"X15","x0":223.41,"x1":223.505,"c":189},{"v":"X15","x0":223.505,"x1":223.6,"c":122},{"v":"X15","x0":223.6,"x1":223.695,"c":105},{"v":"X15","x0":223.695,"x1":223.79,"c":80},{"v":"X15","x0":223.79,"x1":223.885,"c":233},{"v":"X15","x0":223.885,"x1":223.98,"c":200},
{"v":"X16","x0":220.02,"x1":220.116,"c":126},{"v":"X16","x0":220.116,"x1":220.212,"c":153},{"v":"X16","x0":220.212,"x1":220.308,"c":79},{"v":"X16","x0":220.308,"x1":220.404,"c":123},{"v":"X16","x0":220.404,"x1":220.5,"c":225},{"v":"X16","x0":220.5,"x1":220.596,"c":91},{"v":"X16","x0":220.596,"x1":220.692,"c":136},{"v":"X16","x0":220.692,"x1":220.788,"c":75},{"v":"X16","x0":220.788,"x1":220.884,"c":203},{"v":"X16","x0":220.884,"x1":220.98,"c":186},
{"v":"X17","x0":1.207,"x1":1.2358,"c":90},{"v":"X17","x0":1.2358,"x1":1.2646,"c":109},{"v":"X17","x0":1.2646,"x1":1.2934,"c":120},{"v":"X17","x0":1.2934,"x1":1.3222,"c":154},{"v":"X17","x0":1.3222,"x1":1.351,"c":238},{"v":"X17","x0":1.351,"x1":1.3798,"c":88},{"v":"X17","x0":1.3798,"x1":1.4086,"c":127},{"v":"X17","x0":1.4086,"x1":1.4374,"c":73},{"v":"X17","x0":1.4374,"x1":1.4662,"c":236},{"v":"X17","x0":1.4662,"x1":1.495,"c":165},
{"v":"X18","x0":13.04,"x1":13.426,"c":219},{"v":"X18","x0":13.426,"x1":13.812,"c":251},{"v":"X18","x0":13.812,"x1":14.198,"c":91},{"v":"X18","x0":14.198,"x1":14.584,"c":87},{"v":"X18","x0":14.584,"x1":14.97,"c":54},{"v":"X18","x0":14.97,"x1":15.356,"c":203},{"v":"X18","x0":15.356,"x1":15.742,"c":125},{"v":"X18","x0":15.742,"x1":16.128,"c":108},{"v":"X18","x0":16.128,"x1":16.514,"c":162},{"v":"X18","x0":16.514,"x1":16.9,"c":97},
{"v":"X19","x0":48.16,"x1":48.738,"c":81},{"v":"X19","x0":48.738,"x1":49.316,"c":144},{"v":"X19","x0":49.316,"x1":49.894,"c":132},{"v":"X19","x0":49.894,"x1":50.472,"c":106},{"v":"X19","x0":50.472,"x1":51.05,"c":204},{"v":"X19","x0":51.05,"x1":51.628,"c":88},{"v":"X19","x0":51.628,"x1":52.206,"c":110},{"v":"X19","x0":52.206,"x1":52.784,"c":94},{"v":"X19","x0":52.784,"x1":53.362,"c":212},{"v":"X19","x0":53.362,"x1":53.94,"c":228},
{"v":"X20","x0":0.02,"x1":0.154,"c":217},{"v":"X20","x0":0.154,"x1":0.288,"c":231},{"v":"X20","x0":0.288,"x1":0.422,"c":67},{"v":"X20","x0":0.422,"x1":0.556,"c":102},{"v":"X20","x0":0.556,"x1":0.69,"c":65},{"v":"X20","x0":0.69,"x1":0.824,"c":241},{"v":"X20","x0":0.824,"x1":0.958,"c":123},{"v":"X20","x0":0.958,"x1":1.092,"c":114},{"v":"X20","x0":1.092,"x1":1.226,"c":121},{"v":"X20","x0":1.226,"x1":1.36,"c":107},
{"v":"X21","x0":0,"x1":0.1,"c":1400},{"v":"X22","x0":0,"x1":0.1,"c":1400},
{"v":"X23","x0":44.1,"x1":44.68,"c":208},{"v":"X23","x0":44.68,"x1":45.26,"c":224},{"v":"X23","x0":45.26,"x1":45.84,"c":100},{"v":"X23","x0":45.84,"x1":46.42,"c":93},{"v":"X23","x0":46.42,"x1":47,"c":100},{"v":"X23","x0":47,"x1":47.58,"c":223},{"v":"X23","x0":47.58,"x1":48.16,"c":139},{"v":"X23","x0":48.16,"x1":48.74,"c":85},{"v":"X23","x0":48.74,"x1":49.32,"c":138},{"v":"X23","x0":49.32,"x1":49.9,"c":94},
{"v":"X24","x0":21.04,"x1":21.226,"c":205},{"v":"X24","x0":21.226,"x1":21.412,"c":224},{"v":"X24","x0":21.412,"x1":21.598,"c":91},{"v":"X24","x0":21.598,"x1":21.784,"c":119},{"v":"X24","x0":21.784,"x1":21.97,"c":82},{"v":"X24","x0":21.97,"x1":22.156,"c":218},{"v":"X24","x0":22.156,"x1":22.342,"c":144},{"v":"X24","x0":22.342,"x1":22.528,"c":94},{"v":"X24","x0":22.528,"x1":22.714,"c":138},{"v":"X24","x0":22.714,"x1":22.9,"c":99}
],
"d":[
{"v":"X1","x0":16.2,"x1":17.06,"c":196},{"v":"X1","x0":17.06,"x1":17.92,"c":227},{"v":"X1","x0":17.92,"x1":18.78,"c":92},{"v":"X1","x0":18.78,"x1":19.64,"c":80},{"v":"X1","x0":19.64,"x1":20.5,"c":81},{"v":"X1","x0":20.5,"x1":21.36,"c":213},{"v":"X1","x0":21.36,"x1":22.22,"c":105},{"v":"X1","x0":22.22,"x1":23.08,"c":158},{"v":"X1","x0":23.08,"x1":23.94,"c":134},{"v":"X1","x0":23.94,"x1":24.8,"c":119},
{"v":"X2","x0":32.2,"x1":33.84,"c":202},{"v":"X2","x0":33.84,"x1":35.48,"c":229},{"v":"X2","x0":35.48,"x1":37.12,"c":70},{"v":"X2","x0":37.12,"x1":38.76,"c":103},{"v":"X2","x0":38.76,"x1":40.4,"c":100},{"v":"X2","x0":40.4,"x1":42.04,"c":178},{"v":"X2","x0":42.04,"x1":43.68,"c":139},{"v":"X2","x0":43.68,"x1":45.32,"c":113},{"v":"X2","x0":45.32,"x1":46.96,"c":140},{"v":"X2","x0":46.96,"x1":48.6,"c":124},
{"v":"X3","x0":13.3,"x1":14.46,"c":111},{"v":"X3","x0":14.46,"x1":15.62,"c":140},{"v":"X3","x0":15.62,"x1":16.78,"c":110},{"v":"X3","x0":16.78,"x1":17.94,"c":169},{"v":"X3","x0":17.94,"x1":19.1,"c":172},{"v":"X3","x0":19.1,"x1":20.26,"c":79},{"v":"X3","x0":20.26,"x1":21.42,"c":129},{"v":"X3","x0":21.42,"x1":22.58,"c":77},{"v":"X3","x0":22.58,"x1":23.74,"c":212},{"v":"X3","x0":23.74,"x1":24.9,"c":202},
{"v":"X4","x0":0.003,"x1":0.0175,"c":82},{"v":"X4","x0":0.0175,"x1":0.032,"c":142},{"v":"X4","x0":0.032,"x1":0.0465,"c":104},{"v":"X4","x0":0.0465,"x1":0.061,"c":136},{"v":"X4","x0":0.061,"x1":0.0755,"c":195},{"v":"X4","x0":0.0755,"x1":0.09,"c":95},{"v":"X4","x0":0.09,"x1":0.1045,"c":105},{"v":"X4","x0":0.1045,"x1":0.119,"c":79},{"v":"X4","x0":0.119,"x1":0.1335,"c":210},{"v":"X4","x0":0.1335,"x1":0.148,"c":256},
{"v":"X5","x0":3.2,"x1":3.96,"c":192},{"v":"X5","x0":3.96,"x1":4.72,"c":225},{"v":"X5","x0":4.72,"x1":5.48,"c":59},{"v":"X5","x0":5.48,"x1":6.24,"c":135},{"v":"X5","x0":6.24,"x1":7,"c":110},{"v":"X5","x0":7,"x1":7.76,"c":188},{"v":"X5","x0":7.76,"x1":8.52,"c":129},{"v":"X5","x0":8.52,"x1":9.28,"c":114},{"v":"X5","x0":9.28,"x1":10.04,"c":146},{"v":"X5","x0":10.04,"x1":10.8,"c":106},
{"v":"X6","x0":25.6,"x1":34,"c":113},{"v":"X6","x0":34,"x1":42.4,"c":139},{"v":"X6","x0":42.4,"x1":50.8,"c":129},{"v":"X6","x0":50.8,"x1":59.2,"c":96},{"v":"X6","x0":59.2,"x1":67.6,"c":177},{"v":"X6","x0":67.6,"x1":76,"c":103},{"v":"X6","x0":76,"x1":84.4,"c":126},{"v":"X6","x0":84.4,"x1":92.8,"c":109},{"v":"X6","x0":92.8,"x1":101.2,"c":211},{"v":"X6","x0":101.2,"x1":109.6,"c":200},
{"v":"X7","x0":21.9,"x1":25.64,"c":102},{"v":"X7","x0":25.64,"x1":29.38,"c":144},{"v":"X7","x0":29.38,"x1":33.12,"c":86},{"v":"X7","x0":33.12,"x1":36.86,"c":118},{"v":"X7","x0":36.86,"x1":40.6,"c":194},{"v":"X7","x0":40.6,"x1":44.34,"c":78},{"v":"X7","x0":44.34,"x1":48.08,"c":114},{"v":"X7","x0":48.08,"x1":51.82,"c":116},{"v":"X7","x0":51.82,"x1":55.56,"c":234},{"v":"X7","x0":55.56,"x1":59.3,"c":215},
{"v":"X8","x0":0.321,"x1":0.3326,"c":234},{"v":"X8","x0":0.3326,"x1":0.3442,"c":225},{"v":"X8","x0":0.3442,"x1":0.3558,"c":85},{"v":"X8","x0":0.3558,"x1":0.3674,"c":101},{"v":"X8","x0":0.3674,"x1":0.379,"c":100},{"v":"X8","x0":0.379,"x1":0.3906,"c":172},{"v":"X8","x0":0.3906,"x1":0.4022,"c":124},{"v":"X8","x0":0.4022,"x1":0.4138,"c":133},{"v":"X8","x0":0.4138,"x1":0.4254,"c":132},{"v":"X8","x0":0.4254,"x1":0.437,"c":97},
{"v":"X9","x0":1.412,"x1":1.4225,"c":193},{"v":"X9","x0":1.4225,"x1":1.433,"c":206},{"v":"X9","x0":1.433,"x1":1.4435,"c":75},{"v":"X9","x0":1.4435,"x1":1.454,"c":114},{"v":"X9","x0":1.454,"x1":1.4645,"c":100},{"v":"X9","x0":1.4645,"x1":1.475,"c":234},{"v":"X9","x0":1.475,"x1":1.4855,"c":134},{"v":"X9","x0":1.4855,"x1":1.496,"c":126},{"v":"X9","x0":1.496,"x1":1.5065,"c":132},{"v":"X9","x0":1.5065,"x1":1.517,"c":87},
{"v":"X10","x0":0.0004,"x1":0.0023,"c":236},{"v":"X10","x0":0.0023,"x1":0.0042,"c":217},{"v":"X10","x0":0.0042,"x1":0.0061,"c":70},{"v":"X10","x0":0.0061,"x1":0.008,"c":100},{"v":"X10","x0":0.008,"x1":0.0099,"c":94},{"v":"X10","x0":0.0099,"x1":0.0118,"c":192},{"v":"X10","x0":0.0118,"x1":0.0137,"c":130},{"v":"X10","x0":0.0137,"x1":0.0156,"c":95},{"v":"X10","x0":0.0156,"x1":0.0175,"c":151},{"v":"X10","x0":0.0175,"x1":0.0194,"c":118},
{"v":"X11","x0":33.5,"x1":35.12,"c":77},{"v":"X11","x0":35.12,"x1":36.74,"c":146},{"v":"X11","x0":36.74,"x1":38.36,"c":114},{"v":"X11","x0":38.36,"x1":39.98,"c":122},{"v":"X11","x0":39.98,"x1":41.6,"c":207},{"v":"X11","x0":41.6,"x1":43.22,"c":75},{"v":"X11","x0":43.22,"x1":44.84,"c":128},{"v":"X11","x0":44.84,"x1":46.46,"c":86},{"v":"X11","x0":46.46,"x1":48.08,"c":248},{"v":"X11","x0":48.08,"x1":49.7,"c":206},
{"v":"X12","x0":49.905,"x1":49.924,"c":127},{"v":"X12","x0":49.924,"x1":49.943,"c":117},{"v":"X12","x0":49.943,"x1":49.962,"c":131},{"v":"X12","x0":49.962,"x1":49.981,"c":111},{"v":"X12","x0":49.981,"x1":50,"c":230},{"v":"X12","x0":50,"x1":50.019,"c":98},{"v":"X12","x0":50.019,"x1":50.038,"c":108},{"v":"X12","x0":50.038,"x1":50.057,"c":51},{"v":"X12","x0":50.057,"x1":50.076,"c":281},{"v":"X12","x0":50.076,"x1":50.095,"c":148},
{"v":"X13","x0":6.543,"x1":6.5525,"c":96},{"v":"X13","x0":6.5525,"x1":6.562,"c":131},{"v":"X13","x0":6.562,"x1":6.5715,"c":120},{"v":"X13","x0":6.5715,"x1":6.581,"c":134},{"v":"X13","x0":6.581,"x1":6.5905,"c":200},{"v":"X13","x0":6.5905,"x1":6.6,"c":77},{"v":"X13","x0":6.6,"x1":6.6095,"c":113},{"v":"X13","x0":6.6095,"x1":6.619,"c":99},{"v":"X13","x0":6.619,"x1":6.6285,"c":218},{"v":"X13","x0":6.6285,"x1":6.638,"c":221},
{"v":"X14","x0":2.343,"x1":2.3535,"c":92},{"v":"X14","x0":2.3535,"x1":2.364,"c":107},{"v":"X14","x0":2.364,"x1":2.3745,"c":119},{"v":"X14","x0":2.3745,"x1":2.385,"c":96},{"v":"X14","x0":2.385,"x1":2.3955,"c":226},{"v":"X14","x0":2.3955,"x1":2.406,"c":63},{"v":"X14","x0":2.406,"x1":2.4165,"c":118},{"v":"X14","x0":2.4165,"x1":2.427,"c":108},{"v":"X14","x0":2.427,"x1":2.4375,"c":242},{"v":"X14","x0":2.4375,"x1":2.448,"c":229},
{"v":"X15","x0":223.03,"x1":223.125,"c":86},{"v":"X15","x0":223.125,"x1":223.22,"c":138},{"v":"X15","x0":223.22,"x1":223.315,"c":130},{"v":"X15","x0":223.315,"x1":223.41,"c":143},{"v":"X15","x0":223.41,"x1":223.505,"c":183},{"v":"X15","x0":223.505,"x1":223.6,"c":62},{"v":"X15","x0":223.6,"x1":223.695,"c":136},{"v":"X15","x0":223.695,"x1":223.79,"c":84},{"v":"X15","x0":223.79,"x1":223.885,"c":200},{"v":"X15","x0":223.885,"x1":223.98,"c":239},
{"v":"X16","x0":220.02,"x1":220.116,"c":73},{"v":"X16","x0":220.116,"x1":220.212,"c":117},{"v":"X16","x0":220.212,"x1":220.308,"c":109},{"v":"X16","x0":220.308,"x1":220.404,"c":160},{"v":"X16","x0":220.404,"x1":220.5,"c":204},{"v":"X16","x0":220.5,"x1":220.596,"c":104},{"v":"X16","x0":220.596,"x1":220.692,"c":103},{"v":"X16","x0":220.692,"x1":220.788,"c":103},{"v":"X16","x0":220.788,"x1":220.884,"c":238},{"v":"X16","x0":220.884,"x1":220.98,"c":183},
{"v":"X17","x0":1.207,"x1":1.2358,"c":128},{"v":"X17","x0":1.2358,"x1":1.2646,"c":119},{"v":"X17","x0":1.2646,"x1":1.2934,"c":88},{"v":"X17","x0":1.2934,"x1":1.3222,"c":139},{"v":"X17","x0":1.3222,"x1":1.351,"c":214},{"v":"X17","x0":1.351,"x1":1.3798,"c":89},{"v":"X17","x0":1.3798,"x1":1.4086,"c":152},{"v":"X17","x0":1.4086,"x1":1.4374,"c":59},{"v":"X17","x0":1.4374,"x1":1.4662,"c":225},{"v":"X17","x0":1.4662,"x1":1.495,"c":184},
{"v":"X18","x0":13.04,"x1":13.426,"c":217},{"v":"X18","x0":13.426,"x1":13.812,"c":248},{"v":"X18","x0":13.812,"x1":14.198,"c":61},{"v":"X18","x0":14.198,"x1":14.584,"c":114},{"v":"X18","x0":14.584,"x1":14.97,"c":67},{"v":"X18","x0":14.97,"x1":15.356,"c":201},{"v":"X18","x0":15.356,"x1":15.742,"c":143},{"v":"X18","x0":15.742,"x1":16.128,"c":135},{"v":"X18","x0":16.128,"x1":16.514,"c":110},{"v":"X18","x0":16.514,"x1":16.9,"c":97},
{"v":"X19","x0":48.16,"x1":48.738,"c":116},{"v":"X19","x0":48.738,"x1":49.316,"c":153},{"v":"X19","x0":49.316,"x1":49.894,"c":108},{"v":"X19","x0":49.894,"x1":50.472,"c":142},{"v":"X19","x0":50.472,"x1":51.05,"c":205},{"v":"X19","x0":51.05,"x1":51.628,"c":77},{"v":"X19","x0":51.628,"x1":52.206,"c":104},{"v":"X19","x0":52.206,"x1":52.784,"c":71},{"v":"X19","x0":52.784,"x1":53.362,"c":207},{"v":"X19","x0":53.362,"x1":53.94,"c":216},
{"v":"X20","x0":0.02,"x1":0.154,"c":200},{"v":"X20","x0":0.154,"x1":0.288,"c":218},{"v":"X20","x0":0.288,"x1":0.422,"c":83},{"v":"X20","x0":0.422,"x1":0.556,"c":102},{"v":"X20","x0":0.556,"x1":0.69,"c":85},{"v":"X20","x0":0.69,"x1":0.824,"c":212},{"v":"X20","x0":0.824,"x1":0.958,"c":113},{"v":"X20","x0":0.958,"x1":1.092,"c":135},{"v":"X20","x0":1.092,"x1":1.226,"c":142},{"v":"X20","x0":1.226,"x1":1.36,"c":107},
{"v":"X21","x0":0,"x1":0.1,"c":1400},{"v":"X22","x0":0,"x1":0.1,"c":1400},
{"v":"X23","x0":44.1,"x1":44.68,"c":217},{"v":"X23","x0":44.68,"x1":45.26,"c":269},{"v":"X23","x0":45.26,"x1":45.84,"c":49},{"v":"X23","x0":45.84,"x1":46.42,"c":113},{"v":"X23","x0":46.42,"x1":47,"c":71},{"v":"X23","x0":47,"x1":47.58,"c":237},{"v":"X23","x0":47.58,"x1":48.16,"c":120},{"v":"X23","x0":48.16,"x1":48.74,"c":125},{"v":"X23","x0":48.74,"x1":49.32,"c":100},{"v":"X23","x0":49.32,"x1":49.9,"c":104},
{"v":"X24","x0":21.04,"x1":21.226,"c":212},{"v":"X24","x0":21.226,"x1":21.412,"c":236},{"v":"X24","x0":21.412,"x1":21.598,"c":106},{"v":"X24","x0":21.598,"x1":21.784,"c":99},{"v":"X24","x0":21.784,"x1":21.97,"c":86},{"v":"X24","x0":21.97,"x1":22.156,"c":189},{"v":"X24","x0":22.156,"x1":22.342,"c":159},{"v":"X24","x0":22.342,"x1":22.528,"c":117},{"v":"X24","x0":22.528,"x1":22.714,"c":127},{"v":"X24","x0":22.714,"x1":22.9,"c":73}
]
},
"vconcat":[
{"hconcat":[
{"concat":[
{"data":{"name":"a"},"title":"X1","width":245,"transform":[{"filter":"datum.v=='X1'"}],"mark":{"type":"rect","color":"#1f77b4"},"encoding":{"x":{"field":"x0","type":"quantitative","title":null,"scale":{"domain":[15.77,25.23]},"axis":{"values":[20,25],"format":"d"}},"x2":{"field":"x1"},"y":{"field":"c","type":"quantitative","title":null,"scale":{"domain":[0,16.8]},"axis":{"values":[0,5,10,15]}}}},
{"data":{"name":"a"},"title":"X2","width":245,"transform":[{"filter":"datum.v=='X2'"}],"mark":{"type":"rect","color":"#1f77b4"},"encoding":{"x":{"field":"x0","type":"quantitative","title":null,"scale":{"domain":[31.38,49.42]},"axis":{"values":[35,40,45],"format":"d"}},"x2":{"field":"x1"},"y":{"field":"c","type":"quantitative","title":null,"scale":{"domain":[0,16.8]},"axis":{"values":[0,5,10,15]}}}},
{"data":{"name":"a"},"title":"X3","width":245,"transform":[{"filter":"datum.v=='X3'"}],"mark":{"type":"rect","color":"#1f77b4"},"encoding":{"x":{"field":"x0","type":"quantitative","title":null,"scale":{"domain":[12.72,25.48]},"axis":{"values":[15,20,25],"format":"d"}},"x2":{"field":"x1"},"y":{"field":"c","type":"quantitative","title":null,"scale":{"domain":[0,16.8]},"axis":{"values":[0,5,10,15]}}}},
{"data":{"name":"a"},"title":"X4","width":245,"transform":[{"filter":"datum.v=='X4'"}],"mark":{"type":"rect","color":"#1f77b4"},"encoding":{"x":{"field":"x0","type":"quantitative","title":null,"scale":{"domain":[-0.00425,0.15525]},"axis":{"values":[0,0.1],"format":".1f"}},"x2":{"field":"x1"},"y":{"field":"c","type":"quantitative","title":null,"scale":{"domain":[0,16.8]},"axis":{"values":[0,5,10,15]}}}},
{"data":{"name":"a"},"title":"X5","width":245,"transform":[{"filter":"datum.v=='X5'"}],"mark":{"type":"rect","color":"#1f77b4"},"encoding":{"x":{"field":"x0","type":"quantitative","title":null,"scale":{"domain":[2.82,11.18]},"axis":{"values":[5,10],"format":"d"}},"x2":{"field":"x1"},"y":{"field":"c","type":"quantitative","title":null,"scale":{"domain":[0,16.8]},"axis":{"values":[0,5,10,15]}}}},
{"data":{"name":"a"},"title":"X6","width":245,"transform":[{"filter":"datum.v=='X6'"}],"mark":{"type":"rect","color":"#1f77b4"},"encoding":{"x":{"field":"x0","type":"quantitative","title":null,"scale":{"domain":[21.4,113.8]},"axis":{"values":[50,100],"format":"d"}},"x2":{"field":"x1"},"y":{"field":"c","type":"quantitative","title":null,"scale":{"domain":[0,16.8]},"axis":{"values":[0,5,10,15]}}}},
{"data":{"name":"a"},"title":"X7","width":245,"transform":[{"filter":"datum.v=='X7'"}],"mark":{"type":"rect","color":"#1f77b4"},"encoding":{"x":{"field":"x0","type":"quantitative","title":null,"scale":{"domain":[20.03,61.17]},"axis":{"values":[40,60],"format":"d"}},"x2":{"field":"x1"},"y":{"field":"c","type":"quantitative","title":null,"scale":{"domain":[0,16.8]},"axis":{"values":[0,5,10,15]}}}},
{"data":{"name":"a"},"title":"X8","width":245,"transform":[{"filter":"datum.v=='X8'"}],"mark":{"type":"rect","color":"#1f77b4"},"encoding":{"x":{"field":"x0","type":"quantitative","title":null,"scale":{"domain":[0.3152,0.4428]},"axis":{"values":[0.35,0.4],"format":".2f"}},"x2":{"field":"x1"},"y":{"field":"c","type":"quantitative","title":null,"scale":{"domain":[0,16.8]},"axis":{"values":[0,5,10,15]}}}},
{"data":{"name":"a"},"title":"X9","width":245,"transform":[{"filter":"datum.v=='X9'"}],"mark":{"type":"rect","color":"#1f77b4"},"encoding":{"x":{"field":"x0","type":"quantitative","title":null,"scale":{"domain":[1.40675,1.52225]},"axis":{"values":[1.45,1.5],"format":".2f"}},"x2":{"field":"x1"},"y":{"field":"c","type":"quantitative","title":null,"scale":{"domain":[0,16.8]},"axis":{"values":[0,5,10,15]}}}},
{"data":{"name":"a"},"title":"X10","width":245,"transform":[{"filter":"datum.v=='X10'"}],"mark":{"type":"rect","color":"#1f77b4"},"encoding":{"x":{"field":"x0","type":"quantitative","title":null,"scale":{"domain":[-0.00055,0.02035]},"axis":{"values":[0,0.01,0.02],"format":".2f"}},"x2":{"field":"x1"},"y":{"field":"c","type":"quantitative","title":null,"scale":{"domain":[0,16.8]},"axis":{"values":[0,5,10,15]}}}},
{"data":{"name":"a"},"title":"X11","width":245,"transform":[{"filter":"datum.v=='X11'"}],"mark":{"type":"rect","color":"#1f77b4"},"encoding":{"x":{"field":"x0","type":"quantitative","title":null,"scale":{"domain":[32.69,50.51]},"axis":{"values":[40,50],"format":"d"}},"x2":{"field":"x1"},"y":{"field":"c","type":"quantitative","title":null,"scale":{"domain":[0,16.8]},"axis":{"values":[0,5,10,15]}}}},
{"data":{"name":"a"},"title":"X12","width":245,"transform":[{"filter":"datum.v=='X12'"}],"mark":{"type":"rect","color":"#1f77b4"},"encoding":{"x":{"field":"x0","type":"quantitative","title":null,"scale":{"domain":[49.8955,50.1045]},"axis":{"values":[49.9,50,50.1],"format":".1f"}},"x2":{"field":"x1"},"y":{"field":"c","type":"quantitative","title":null,"scale":{"domain":[0,16.8]},"axis":{"values":[0,5,10,15]}}}},
{"data":{"name":"a"},"title":"X13","width":245,"transform":[{"filter":"datum.v=='X13'"}],"mark":{"type":"rect","color":"#1f77b4"},"encoding":{"x":{"field":"x0","type":"quantitative","title":null,"scale":{"domain":[6.53825,6.64275]},"axis":{"values":[6.55,6.6],"format":".2f"}},"x2":{"field":"x1"},"y":{"field":"c","type":"quantitative","title":null,"scale":{"domain":[0,16.8]},"axis":{"values":[0,5,10,15]}}}},
{"data":{"name":"a"},"title":"X14","width":245,"transform":[{"filter":"datum.v=='X14'"}],"mark":{"type":"rect","color":"#1f77b4"},"encoding":{"x":{"field":"x0","type":"quantitative","title":null,"scale":{"domain":[2.33775,2.45325]},"axis":{"values":[2.35,2.4,2.45],"format":".2f"}},"x2":{"field":"x1"},"y":{"field":"c","type":"quantitative","title":null,"scale":{"domain":[0,16.8]},"axis":{"values":[0,5,10,15]}}}},
{"data":{"name":"a"},"title":"X15","width":245,"transform":[{"filter":"datum.v=='X15'"}],"mark":{"type":"rect","color":"#1f77b4"},"encoding":{"x":{"field":"x0","type":"quantitative","title":null,"scale":{"domain":[222.9825,224.0275]},"axis":{"values":[223,223.5,224],"format":".1f"}},"x2":{"field":"x1"},"y":{"field":"c","type":"quantitative","title":null,"scale":{"domain":[0,16.8]},"axis":{"values":[0,5,10,15]}}}},
{"data":{"name":"a"},"title":"X16","width":245,"transform":[{"filter":"datum.v=='X16'"}],"mark":{"type":"rect","color":"#1f77b4"},"encoding":{"x":{"field":"x0","type":"quantitative","title":null,"scale":{"domain":[219.972,221.028]},"axis":{"values":[220,220.5,221],"format":".1f"}},"x2":{"field":"x1"},"y":{"field":"c","type":"quantitative","title":null,"scale":{"domain":[0,16.8]},"axis":{"values":[0,5,10,15]}}}},
{"data":{"name":"a"},"title":"X17","width":245,"transform":[{"filter":"datum.v=='X17'"}],"mark":{"type":"rect","color":"#1f77b4"},"encoding":{"x":{"field":"x0","type":"quantitative","title":null,"scale":{"domain":[1.1926,1.5094]},"axis":{"values":[1.2,1.4],"format":".1f"}},"x2":{"field":"x1"},"y":{"field":"c","type":"quantitative","title":null,"scale":{"domain":[0,16.8]},"axis":{"values":[0,5,10,15]}}}},
{"data":{"name":"a"},"title":"X18","width":245,"transform":[{"filter":"datum.v=='X18'"}],"mark":{"type":"rect","color":"#1f77b4"},"encoding":{"x":{"field":"x0","type":"quantitative","title":null,"scale":{"domain":[12.847,17.093]},"axis":{"values":[14,16],"format":"d"}},"x2":{"field":"x1"},"y":{"field":"c","type":"quantitative","title":null,"scale":{"domain":[0,16.8]},"axis":{"values":[0,5,10,15]}}}},
{"data":{"name":"a"},"title":"X19","width":245,"transform":[{"filter":"datum.v=='X19'"}],"mark":{"type":"rect","color":"#1f77b4"},"encoding":{"x":{"field":"x0","type":"quantitative","title":null,"scale":{"domain":[47.871,54.229]},"axis":{"values":[50,52.5],"format":".1f"}},"x2":{"field":"x1"},"y":{"field":"c","type":"quantitative","title":null,"scale":{"domain":[0,16.8]},"axis":{"values":[0,5,10,15]}}}},
{"data":{"name":"a"},"title":"X20","width":245,"transform":[{"filter":"datum.v=='X20'"}],"mark":{"type":"rect","color":"#1f77b4"},"encoding":{"x":{"field":"x0","type":"quantitative","title":null,"scale":{"domain":[-0.047,1.427]},"axis":{"values":[0,0.5,1],"format":".1f"}},"x2":{"field":"x1"},"y":{"field":"c","type":"quantitative","title":null,"scale":{"domain":[0,16.8]},"axis":{"values":[0,5,10,15]}}}},
{"data":{"name":"a"},"title":"X21","width":245,"transform":[{"filter":"datum.v=='X21'"}],"mark":{"type":"rect","color":"#1f77b4"},"encoding":{"x":{"field":"x0","type":"quantitative","title":null,"scale":{"domain":[-0.55,0.55]},"axis":{"values":[-0.5,0,0.5],"format":".1f"}},"x2":{"field":"x1"},"y":{"field":"c","type":"quantitative","title":null,"scale":{"domain":[0,105]},"axis":{"values":[0,50,100]}}}},
{"data":{"name":"a"},"title":"X22","width":245,"transform":[{"filter":"datum.v=='X22'"}],"mark":{"type":"rect","color":"#1f77b4"},"encoding":{"x":{"field":"x0","type":"quantitative","title":null,"scale":{"domain":[-0.55,0.55]},"axis":{"values":[-0.5,0,0.5],"format":".1f"}},"x2":{"field":"x1"},"y":{"field":"c","type":"quantitative","title":null,"scale":{"domain":[0,105]},"axis":{"values":[0,50,100]}}}},
{"data":{"name":"a"},"title":"X23","width":245,"transform":[{"filter":"datum.v=='X23'"}],"mark":{"type":"rect","color":"#1f77b4"},"encoding":{"x":{"field":"x0","type":"quantitative","title":null,"scale":{"domain":[43.81,50.19]},"axis":{"values":[45,47.5,50],"format":".1f"}},"x2":{"field":"x1"},"y":{"field":"c","type":"quantitative","title":null,"scale":{"domain":[0,16.8]},"axis":{"values":[0,5,10,15]}}}},
{"data":{"name":"a"},"title":"X24","width":245,"transform":[{"filter":"datum.v=='X24'"}],"mark":{"type":"rect","color":"#1f77b4"},"encoding":{"x":{"field":"x0","type":"quantitative","title":null,"scale":{"domain":[20.947,22.993]},"axis":{"values":[21,22,23],"format":"d"}},"x2":{"field":"x1"},"y":{"field":"c","type":"quantitative","title":null,"scale":{"domain":[0,16.8]},"axis":{"values":[0,5,10,15]}}}}
],"columns":5,"spacing":{"row":72,"column":71},"bounds":"flush",
"title":{"text":"(a)","orient":"bottom","anchor":"middle","font":"Liberation Serif","fontSize":86,"fontWeight":"bold","baseline":"alphabetic","offset":106}},
{"concat":[
{"data":{"name":"b"},"title":"X1","width":228,"transform":[{"filter":"datum.v=='X1'"}],"mark":{"type":"rect","color":"#F7A762"},"encoding":{"x":{"field":"x0","type":"quantitative","title":null,"scale":{"domain":[15.77,25.23]},"axis":{"values":[20,25],"format":"d"}},"x2":{"field":"x1"},"y":{"field":"c","type":"quantitative","title":null,"scale":{"domain":[0,264.6]},"axis":{"values":[0,100,200]}}}},
{"data":{"name":"b"},"title":"X2","width":228,"transform":[{"filter":"datum.v=='X2'"}],"mark":{"type":"rect","color":"#F7A762"},"encoding":{"x":{"field":"x0","type":"quantitative","title":null,"scale":{"domain":[31.38,49.42]},"axis":{"values":[35,40,45],"format":"d"}},"x2":{"field":"x1"},"y":{"field":"c","type":"quantitative","title":null,"scale":{"domain":[0,264.6]},"axis":{"values":[0,100,200]}}}},
{"data":{"name":"b"},"title":"X3","width":228,"transform":[{"filter":"datum.v=='X3'"}],"mark":{"type":"rect","color":"#F7A762"},"encoding":{"x":{"field":"x0","type":"quantitative","title":null,"scale":{"domain":[12.72,25.48]},"axis":{"values":[15,20,25],"format":"d"}},"x2":{"field":"x1"},"y":{"field":"c","type":"quantitative","title":null,"scale":{"domain":[0,264.6]},"axis":{"values":[0,100,200]}}}},
{"data":{"name":"b"},"title":"X4","width":228,"transform":[{"filter":"datum.v=='X4'"}],"mark":{"type":"rect","color":"#F7A762"},"encoding":{"x":{"field":"x0","type":"quantitative","title":null,"scale":{"domain":[-0.00425,0.15525]},"axis":{"values":[0,0.1],"format":".1f"}},"x2":{"field":"x1"},"y":{"field":"c","type":"quantitative","title":null,"scale":{"domain":[0,264.6]},"axis":{"values":[0,100,200]}}}},
{"data":{"name":"b"},"title":"X5","width":228,"transform":[{"filter":"datum.v=='X5'"}],"mark":{"type":"rect","color":"#F7A762"},"encoding":{"x":{"field":"x0","type":"quantitative","title":null,"scale":{"domain":[2.82,11.18]},"axis":{"values":[5,10],"format":"d"}},"x2":{"field":"x1"},"y":{"field":"c","type":"quantitative","title":null,"scale":{"domain":[0,264.6]},"axis":{"values":[0,100,200]}}}},
{"data":{"name":"b"},"title":"X6","width":228,"transform":[{"filter":"datum.v=='X6'"}],"mark":{"type":"rect","color":"#F7A762"},"encoding":{"x":{"field":"x0","type":"quantitative","title":null,"scale":{"domain":[21.4,113.8]},"axis":{"values":[50,100],"format":"d"}},"x2":{"field":"x1"},"y":{"field":"c","type":"quantitative","title":null,"scale":{"domain":[0,264.6]},"axis":{"values":[0,100,200]}}}},
{"data":{"name":"b"},"title":"X7","width":228,"transform":[{"filter":"datum.v=='X7'"}],"mark":{"type":"rect","color":"#F7A762"},"encoding":{"x":{"field":"x0","type":"quantitative","title":null,"scale":{"domain":[20.03,61.17]},"axis":{"values":[20,40,60],"format":"d"}},"x2":{"field":"x1"},"y":{"field":"c","type":"quantitative","title":null,"scale":{"domain":[0,264.6]},"axis":{"values":[0,100,200]}}}},
{"data":{"name":"b"},"title":"X8","width":228,"transform":[{"filter":"datum.v=='X8'"}],"mark":{"type":"rect","color":"#F7A762"},"encoding":{"x":{"field":"x0","type":"quantitative","title":null,"scale":{"domain":[0.3152,0.4428]},"axis":{"values":[0.35,0.4],"format":".2f"}},"x2":{"field":"x1"},"y":{"field":"c","type":"quantitative","title":null,"scale":{"domain":[0,264.6]},"axis":{"values":[0,100,200]}}}},
{"data":{"name":"b"},"title":"X9","width":228,"transform":[{"filter":"datum.v=='X9'"}],"mark":{"type":"rect","color":"#F7A762"},"encoding":{"x":{"field":"x0","type":"quantitative","title":null,"scale":{"domain":[1.40675,1.52225]},"axis":{"values":[1.45,1.5],"format":".2f"}},"x2":{"field":"x1"},"y":{"field":"c","type":"quantitative","title":null,"scale":{"domain":[0,264.6]},"axis":{"values":[0,100,200]}}}},
{"data":{"name":"b"},"title":"X10","width":228,"transform":[{"filter":"datum.v=='X10'"}],"mark":{"type":"rect","color":"#F7A762"},"encoding":{"x":{"field":"x0","type":"quantitative","title":null,"scale":{"domain":[-0.00055,0.02035]},"axis":{"values":[0,0.01,0.02],"format":".2f"}},"x2":{"field":"x1"},"y":{"field":"c","type":"quantitative","title":null,"scale":{"domain":[0,264.6]},"axis":{"values":[0,100,200]}}}},
{"data":{"name":"b"},"title":"X11","width":228,"transform":[{"filter":"datum.v=='X11'"}],"mark":{"type":"rect","color":"#F7A762"},"encoding":{"x":{"field":"x0","type":"quantitative","title":null,"scale":{"domain":[32.69,50.51]},"axis":{"values":[40,50],"format":"d"}},"x2":{"field":"x1"},"y":{"field":"c","type":"quantitative","title":null,"scale":{"domain":[0,264.6]},"axis":{"values":[0,100,200]}}}},
{"data":{"name":"b"},"title":"X12","width":228,"transform":[{"filter":"datum.v=='X12'"}],"mark":{"type":"rect","color":"#F7A762"},"encoding":{"x":{"field":"x0","type":"quantitative","title":null,"scale":{"domain":[49.8955,50.1045]},"axis":{"values":[49.9,50,50.1],"format":".1f"}},"x2":{"field":"x1"},"y":{"field":"c","type":"quantitative","title":null,"scale":{"domain":[0,264.6]},"axis":{"values":[0,100,200]}}}},
{"data":{"name":"b"},"title":"X13","width":228,"transform":[{"filter":"datum.v=='X13'"}],"mark":{"type":"rect","color":"#F7A762"},"encoding":{"x":{"field":"x0","type":"quantitative","title":null,"scale":{"domain":[6.53825,6.64275]},"axis":{"values":[6.55,6.6],"format":".2f"}},"x2":{"field":"x1"},"y":{"field":"c","type":"quantitative","title":null,"scale":{"domain":[0,264.6]},"axis":{"values":[0,100,200]}}}},
{"data":{"name":"b"},"title":"X14","width":228,"transform":[{"filter":"datum.v=='X14'"}],"mark":{"type":"rect","color":"#F7A762"},"encoding":{"x":{"field":"x0","type":"quantitative","title":null,"scale":{"domain":[2.33775,2.45325]},"axis":{"values":[2.35,2.4,2.45],"format":".2f"}},"x2":{"field":"x1"},"y":{"field":"c","type":"quantitative","title":null,"scale":{"domain":[0,264.6]},"axis":{"values":[0,100,200]}}}},
{"data":{"name":"b"},"title":"X15","width":228,"transform":[{"filter":"datum.v=='X15'"}],"mark":{"type":"rect","color":"#F7A762"},"encoding":{"x":{"field":"x0","type":"quantitative","title":null,"scale":{"domain":[222.9825,224.0275]},"axis":{"values":[223,223.5,224],"format":".1f"}},"x2":{"field":"x1"},"y":{"field":"c","type":"quantitative","title":null,"scale":{"domain":[0,264.6]},"axis":{"values":[0,100,200]}}}},
{"data":{"name":"b"},"title":"X16","width":228,"transform":[{"filter":"datum.v=='X16'"}],"mark":{"type":"rect","color":"#F7A762"},"encoding":{"x":{"field":"x0","type":"quantitative","title":null,"scale":{"domain":[219.972,221.028]},"axis":{"values":[220,220.5,221],"format":".1f"}},"x2":{"field":"x1"},"y":{"field":"c","type":"quantitative","title":null,"scale":{"domain":[0,264.6]},"axis":{"values":[0,100,200]}}}},
{"data":{"name":"b"},"title":"X17","width":228,"transform":[{"filter":"datum.v=='X17'"}],"mark":{"type":"rect","color":"#F7A762"},"encoding":{"x":{"field":"x0","type":"quantitative","title":null,"scale":{"domain":[1.1926,1.5094]},"axis":{"values":[1.2,1.4],"format":".1f"}},"x2":{"field":"x1"},"y":{"field":"c","type":"quantitative","title":null,"scale":{"domain":[0,264.6]},"axis":{"values":[0,100,200]}}}},
{"data":{"name":"b"},"title":"X18","width":228,"transform":[{"filter":"datum.v=='X18'"}],"mark":{"type":"rect","color":"#F7A762"},"encoding":{"x":{"field":"x0","type":"quantitative","title":null,"scale":{"domain":[12.847,17.093]},"axis":{"values":[14,16],"format":"d"}},"x2":{"field":"x1"},"y":{"field":"c","type":"quantitative","title":null,"scale":{"domain":[0,264.6]},"axis":{"values":[0,100,200]}}}},
{"data":{"name":"b"},"title":"X19","width":228,"transform":[{"filter":"datum.v=='X19'"}],"mark":{"type":"rect","color":"#F7A762"},"encoding":{"x":{"field":"x0","type":"quantitative","title":null,"scale":{"domain":[47.871,54.229]},"axis":{"values":[50,52.5],"format":".1f"}},"x2":{"field":"x1"},"y":{"field":"c","type":"quantitative","title":null,"scale":{"domain":[0,264.6]},"axis":{"values":[0,100,200]}}}},
{"data":{"name":"b"},"title":"X20","width":228,"transform":[{"filter":"datum.v=='X20'"}],"mark":{"type":"rect","color":"#F7A762"},"encoding":{"x":{"field":"x0","type":"quantitative","title":null,"scale":{"domain":[-0.047,1.427]},"axis":{"values":[0,0.5,1],"format":".1f"}},"x2":{"field":"x1"},"y":{"field":"c","type":"quantitative","title":null,"scale":{"domain":[0,264.6]},"axis":{"values":[0,100,200]}}}},
{"data":{"name":"b"},"title":"X21","width":228,"transform":[{"filter":"datum.v=='X21'"}],"mark":{"type":"rect","color":"#F7A762"},"encoding":{"x":{"field":"x0","type":"quantitative","title":null,"scale":{"domain":[-0.55,0.55]},"axis":{"values":[-0.5,0,0.5],"format":".1f"}},"x2":{"field":"x1"},"y":{"field":"c","type":"quantitative","title":null,"scale":{"domain":[0,1470]},"axis":{"values":[0,500,1000],"format":"d"}}}},
{"data":{"name":"b"},"title":"X22","width":228,"transform":[{"filter":"datum.v=='X22'"}],"mark":{"type":"rect","color":"#F7A762"},"encoding":{"x":{"field":"x0","type":"quantitative","title":null,"scale":{"domain":[-0.55,0.55]},"axis":{"values":[-0.5,0,0.5],"format":".1f"}},"x2":{"field":"x1"},"y":{"field":"c","type":"quantitative","title":null,"scale":{"domain":[0,1470]},"axis":{"values":[0,500,1000],"format":"d"}}}},
{"data":{"name":"b"},"title":"X23","width":228,"transform":[{"filter":"datum.v=='X23'"}],"mark":{"type":"rect","color":"#F7A762"},"encoding":{"x":{"field":"x0","type":"quantitative","title":null,"scale":{"domain":[43.81,50.19]},"axis":{"values":[45,47.5,50],"format":".1f"}},"x2":{"field":"x1"},"y":{"field":"c","type":"quantitative","title":null,"scale":{"domain":[0,264.6]},"axis":{"values":[0,100,200]}}}},
{"data":{"name":"b"},"title":"X24","width":228,"transform":[{"filter":"datum.v=='X24'"}],"mark":{"type":"rect","color":"#F7A762"},"encoding":{"x":{"field":"x0","type":"quantitative","title":null,"scale":{"domain":[20.947,22.993]},"axis":{"values":[21,22,23],"format":"d"}},"x2":{"field":"x1"},"y":{"field":"c","type":"quantitative","title":null,"scale":{"domain":[0,264.6]},"axis":{"values":[0,100,200]}}}}
],"columns":5,"spacing":{"row":72,"column":89},"bounds":"flush",
"title":{"text":"(b)","orient":"bottom","anchor":"middle","font":"Liberation Serif","fontSize":86,"fontWeight":"bold","baseline":"alphabetic","offset":106}}
],"spacing":215},
{"hconcat":[
{"concat":[
{"data":{"name":"c"},"title":{"text":"X1","fontSize":32},"width":235,"transform":[{"filter":"datum.v=='X1'"}],"mark":{"type":"rect","color":"#6495ED"},"encoding":{"x":{"field":"x0","type":"quantitative","title":null,"scale":{"domain":[15.77,25.23]},"axis":{"values":[20,25],"format":"d"}},"x2":{"field":"x1"},"y":{"field":"c","type":"quantitative","title":null,"scale":{"domain":[0,235.2]},"axis":{"values":[0,100,200]}}}},
{"data":{"name":"c"},"title":{"text":"X2","fontSize":32},"width":235,"transform":[{"filter":"datum.v=='X2'"}],"mark":{"type":"rect","color":"#6495ED"},"encoding":{"x":{"field":"x0","type":"quantitative","title":null,"scale":{"domain":[31.38,49.42]},"axis":{"values":[35,40,45],"format":"d"}},"x2":{"field":"x1"},"y":{"field":"c","type":"quantitative","title":null,"scale":{"domain":[0,246.75]},"axis":{"values":[0,100,200]}}}},
{"data":{"name":"c"},"title":{"text":"X3","fontSize":32},"width":235,"transform":[{"filter":"datum.v=='X3'"}],"mark":{"type":"rect","color":"#6495ED"},"encoding":{"x":{"field":"x0","type":"quantitative","title":null,"scale":{"domain":[12.72,25.48]},"axis":{"values":[15,20,25],"format":"d"}},"x2":{"field":"x1"},"y":{"field":"c","type":"quantitative","title":null,"scale":{"domain":[0,228.9]},"axis":{"values":[0,100,200]}}}},
{"data":{"name":"c"},"title":{"text":"X4","fontSize":32},"width":235,"transform":[{"filter":"datum.v=='X4'"}],"mark":{"type":"rect","color":"#6495ED"},"encoding":{"x":{"field":"x0","type":"quantitative","title":null,"scale":{"domain":[-0.00425,0.15525]},"axis":{"values":[0,0.1],"format":".1f"}},"x2":{"field":"x1"},"y":{"field":"c","type":"quantitative","title":null,"scale":{"domain":[0,265.65]},"axis":{"values":[0,100,200]}}}},
{"data":{"name":"c"},"title":{"text":"X5","fontSize":32},"width":235,"transform":[{"filter":"datum.v=='X5'"}],"mark":{"type":"rect","color":"#6495ED"},"encoding":{"x":{"field":"x0","type":"quantitative","title":null,"scale":{"domain":[2.82,11.18]},"axis":{"values":[5,10],"format":"d"}},"x2":{"field":"x1"},"y":{"field":"c","type":"quantitative","title":null,"scale":{"domain":[0,277.2]},"axis":{"values":[0,100,200]}}}},
{"data":{"name":"c"},"title":{"text":"X6","fontSize":32},"width":235,"transform":[{"filter":"datum.v=='X6'"}],"mark":{"type":"rect","color":"#6495ED"},"encoding":{"x":{"field":"x0","type":"quantitative","title":null,"scale":{"domain":[21.4,113.8]},"axis":{"values":[50,100],"format":"d"}},"x2":{"field":"x1"},"y":{"field":"c","type":"quantitative","title":null,"scale":{"domain":[0,223.65]},"axis":{"values":[0,100,200]}}}},
{"data":{"name":"c"},"title":{"text":"X7","fontSize":32},"width":235,"transform":[{"filter":"datum.v=='X7'"}],"mark":{"type":"rect","color":"#6495ED"},"encoding":{"x":{"field":"x0","type":"quantitative","title":null,"scale":{"domain":[20.03,61.17]},"axis":{"values":[40,60],"format":"d"}},"x2":{"field":"x1"},"y":{"field":"c","type":"quantitative","title":null,"scale":{"domain":[0,222.6]},"axis":{"values":[0,100,200]}}}},
{"data":{"name":"c"},"title":{"text":"X8","fontSize":32},"width":235,"transform":[{"filter":"datum.v=='X8'"}],"mark":{"type":"rect","color":"#6495ED"},"encoding":{"x":{"field":"x0","type":"quantitative","title":null,"scale":{"domain":[0.3152,0.4428]},"axis":{"values":[0.35,0.4],"format":".2f"}},"x2":{"field":"x1"},"y":{"field":"c","type":"quantitative","title":null,"scale":{"domain":[0,234.15]},"axis":{"values":[0,100,200]}}}},
{"data":{"name":"c"},"title":{"text":"X9","fontSize":32},"width":235,"transform":[{"filter":"datum.v=='X9'"}],"mark":{"type":"rect","color":"#6495ED"},"encoding":{"x":{"field":"x0","type":"quantitative","title":null,"scale":{"domain":[1.40675,1.52225]},"axis":{"values":[1.45,1.5],"format":".2f"}},"x2":{"field":"x1"},"y":{"field":"c","type":"quantitative","title":null,"scale":{"domain":[0,239.4]},"axis":{"values":[0,100,200]}}}},
{"data":{"name":"c"},"title":{"text":"X10","fontSize":32},"width":235,"transform":[{"filter":"datum.v=='X10'"}],"mark":{"type":"rect","color":"#6495ED"},"encoding":{"x":{"field":"x0","type":"quantitative","title":null,"scale":{"domain":[-0.00055,0.02035]},"axis":{"values":[0,0.01,0.02],"format":".2f"}},"x2":{"field":"x1"},"y":{"field":"c","type":"quantitative","title":null,"scale":{"domain":[0,258.3]},"axis":{"values":[0,100,200]}}}},
{"data":{"name":"c"},"title":{"text":"X11","fontSize":32},"width":235,"transform":[{"filter":"datum.v=='X11'"}],"mark":{"type":"rect","color":"#6495ED"},"encoding":{"x":{"field":"x0","type":"quantitative","title":null,"scale":{"domain":[32.69,50.51]},"axis":{"values":[40,50],"format":"d"}},"x2":{"field":"x1"},"y":{"field":"c","type":"quantitative","title":null,"scale":{"domain":[0,245.7]},"axis":{"values":[0,100,200]}}}},
{"data":{"name":"c"},"title":{"text":"X12","fontSize":32},"width":235,"transform":[{"filter":"datum.v=='X12'"}],"mark":{"type":"rect","color":"#6495ED"},"encoding":{"x":{"field":"x0","type":"quantitative","title":null,"scale":{"domain":[49.8955,50.1045]},"axis":{"values":[49.9,50,50.1],"format":".1f"}},"x2":{"field":"x1"},"y":{"field":"c","type":"quantitative","title":null,"scale":{"domain":[0,245.7]},"axis":{"values":[0,100,200]}}}},
{"data":{"name":"c"},"title":{"text":"X13","fontSize":32},"width":235,"transform":[{"filter":"datum.v=='X13'"}],"mark":{"type":"rect","color":"#6495ED"},"encoding":{"x":{"field":"x0","type":"quantitative","title":null,"scale":{"domain":[6.53825,6.64275]},"axis":{"values":[6.55,6.6],"format":".2f"}},"x2":{"field":"x1"},"y":{"field":"c","type":"quantitative","title":null,"scale":{"domain":[0,234.15]},"axis":{"values":[0,100,200]}}}},
{"data":{"name":"c"},"title":{"text":"X14","fontSize":32},"width":235,"transform":[{"filter":"datum.v=='X14'"}],"mark":{"type":"rect","color":"#6495ED"},"encoding":{"x":{"field":"x0","type":"quantitative","title":null,"scale":{"domain":[2.33775,2.45325]},"axis":{"values":[2.35,2.4,2.45],"format":".2f"}},"x2":{"field":"x1"},"y":{"field":"c","type":"quantitative","title":null,"scale":{"domain":[0,252]},"axis":{"values":[0,100,200]}}}},
{"data":{"name":"c"},"title":{"text":"X15","fontSize":32},"width":235,"transform":[{"filter":"datum.v=='X15'"}],"mark":{"type":"rect","color":"#6495ED"},"encoding":{"x":{"field":"x0","type":"quantitative","title":null,"scale":{"domain":[222.9825,224.0275]},"axis":{"values":[223,223.5,224],"format":".1f"}},"x2":{"field":"x1"},"y":{"field":"c","type":"quantitative","title":null,"scale":{"domain":[0,244.65]},"axis":{"values":[0,100,200]}}}},
{"data":{"name":"c"},"title":{"text":"X16","fontSize":32},"width":235,"transform":[{"filter":"datum.v=='X16'"}],"mark":{"type":"rect","color":"#6495ED"},"encoding":{"x":{"field":"x0","type":"quantitative","title":null,"scale":{"domain":[219.972,221.028]},"axis":{"values":[220,220.5,221],"format":".1f"}},"x2":{"field":"x1"},"y":{"field":"c","type":"quantitative","title":null,"scale":{"domain":[0,236.25]},"axis":{"values":[0,100,200]}}}},
{"data":{"name":"c"},"title":{"text":"X17","fontSize":32},"width":235,"transform":[{"filter":"datum.v=='X17'"}],"mark":{"type":"rect","color":"#6495ED"},"encoding":{"x":{"field":"x0","type":"quantitative","title":null,"scale":{"domain":[1.1926,1.5094]},"axis":{"values":[1.2,1.4],"format":".1f"}},"x2":{"field":"x1"},"y":{"field":"c","type":"quantitative","title":null,"scale":{"domain":[0,249.9]},"axis":{"values":[0,100,200]}}}},
{"data":{"name":"c"},"title":{"text":"X18","fontSize":32},"width":235,"transform":[{"filter":"datum.v=='X18'"}],"mark":{"type":"rect","color":"#6495ED"},"encoding":{"x":{"field":"x0","type":"quantitative","title":null,"scale":{"domain":[12.847,17.093]},"axis":{"values":[14,16],"format":"d"}},"x2":{"field":"x1"},"y":{"field":"c","type":"quantitative","title":null,"scale":{"domain":[0,263.55]},"axis":{"values":[0,100,200]}}}},
{"data":{"name":"c"},"title":{"text":"X19","fontSize":32},"width":235,"transform":[{"filter":"datum.v=='X19'"}],"mark":{"type":"rect","color":"#6495ED"},"encoding":{"x":{"field":"x0","type":"quantitative","title":null,"scale":{"domain":[47.871,54.229]},"axis":{"values":[50,52.5],"format":".1f"}},"x2":{"field":"x1"},"y":{"field":"c","type":"quantitative","title":null,"scale":{"domain":[0,239.4]},"axis":{"values":[0,100,200]}}}},
{"data":{"name":"c"},"title":{"text":"X20","fontSize":32},"width":235,"transform":[{"filter":"datum.v=='X20'"}],"mark":{"type":"rect","color":"#6495ED"},"encoding":{"x":{"field":"x0","type":"quantitative","title":null,"scale":{"domain":[-0.047,1.427]},"axis":{"values":[0,0.5,1],"format":".1f"}},"x2":{"field":"x1"},"y":{"field":"c","type":"quantitative","title":null,"scale":{"domain":[0,253.05]},"axis":{"values":[0,100,200]}}}},
{"data":{"name":"c"},"title":{"text":"X21","fontSize":32},"width":235,"transform":[{"filter":"datum.v=='X21'"}],"mark":{"type":"rect","color":"#6495ED"},"encoding":{"x":{"field":"x0","type":"quantitative","title":null,"scale":{"domain":[-0.55,0.55]},"axis":{"values":[-0.5,0,0.5],"format":".1f"}},"x2":{"field":"x1"},"y":{"field":"c","type":"quantitative","title":null,"scale":{"domain":[0,1470]},"axis":{"values":[0,500,1000],"format":"d"}}}},
{"data":{"name":"c"},"title":{"text":"X22","fontSize":32},"width":235,"transform":[{"filter":"datum.v=='X22'"}],"mark":{"type":"rect","color":"#6495ED"},"encoding":{"x":{"field":"x0","type":"quantitative","title":null,"scale":{"domain":[-0.55,0.55]},"axis":{"values":[-0.5,0,0.5],"format":".1f"}},"x2":{"field":"x1"},"y":{"field":"c","type":"quantitative","title":null,"scale":{"domain":[0,1470]},"axis":{"values":[0,500,1000],"format":"d"}}}},
{"data":{"name":"c"},"title":{"text":"X23","fontSize":32},"width":235,"transform":[{"filter":"datum.v=='X23'"}],"mark":{"type":"rect","color":"#6495ED"},"encoding":{"x":{"field":"x0","type":"quantitative","title":null,"scale":{"domain":[43.81,50.19]},"axis":{"values":[45,47.5,50],"format":".1f"}},"x2":{"field":"x1"},"y":{"field":"c","type":"quantitative","title":null,"scale":{"domain":[0,235.2]},"axis":{"values":[0,100,200]}}}},
{"data":{"name":"c"},"title":{"text":"X24","fontSize":32},"width":235,"transform":[{"filter":"datum.v=='X24'"}],"mark":{"type":"rect","color":"#6495ED"},"encoding":{"x":{"field":"x0","type":"quantitative","title":null,"scale":{"domain":[20.947,22.993]},"axis":{"values":[21,22,23],"format":"d"}},"x2":{"field":"x1"},"y":{"field":"c","type":"quantitative","title":null,"scale":{"domain":[0,235.2]},"axis":{"values":[0,100,200]}}}}
],"columns":5,"spacing":{"row":73,"column":82},"bounds":"flush",
"title":{"text":"(c)","orient":"bottom","anchor":"middle","font":"Liberation Serif","fontSize":86,"fontWeight":"bold","baseline":"alphabetic","offset":100}},
{"concat":[
{"data":{"name":"d"},"title":{"text":"X1","fontSize":32},"width":234,"transform":[{"filter":"datum.v=='X1'"}],"mark":{"type":"rect","color":"#228B22"},"encoding":{"x":{"field":"x0","type":"quantitative","title":null,"scale":{"domain":[15.77,25.23]},"axis":{"values":[20,25],"format":"d"}},"x2":{"field":"x1"},"y":{"field":"c","type":"quantitative","title":null,"scale":{"domain":[0,238.35]},"axis":{"values":[0,100,200]}}}},
{"data":{"name":"d"},"title":{"text":"X2","fontSize":32},"width":234,"transform":[{"filter":"datum.v=='X2'"}],"mark":{"type":"rect","color":"#228B22"},"encoding":{"x":{"field":"x0","type":"quantitative","title":null,"scale":{"domain":[31.38,49.42]},"axis":{"values":[35,40,45],"format":"d"}},"x2":{"field":"x1"},"y":{"field":"c","type":"quantitative","title":null,"scale":{"domain":[0,240.45]},"axis":{"values":[0,100,200]}}}},
{"data":{"name":"d"},"title":{"text":"X3","fontSize":32},"width":234,"transform":[{"filter":"datum.v=='X3'"}],"mark":{"type":"rect","color":"#228B22"},"encoding":{"x":{"field":"x0","type":"quantitative","title":null,"scale":{"domain":[12.72,25.48]},"axis":{"values":[15,20,25],"format":"d"}},"x2":{"field":"x1"},"y":{"field":"c","type":"quantitative","title":null,"scale":{"domain":[0,222.6]},"axis":{"values":[0,100,200]}}}},
{"data":{"name":"d"},"title":{"text":"X4","fontSize":32},"width":234,"transform":[{"filter":"datum.v=='X4'"}],"mark":{"type":"rect","color":"#228B22"},"encoding":{"x":{"field":"x0","type":"quantitative","title":null,"scale":{"domain":[-0.00425,0.15525]},"axis":{"values":[0,0.1],"format":".1f"}},"x2":{"field":"x1"},"y":{"field":"c","type":"quantitative","title":null,"scale":{"domain":[0,268.8]},"axis":{"values":[0,100,200]}}}},
{"data":{"name":"d"},"title":{"text":"X5","fontSize":32},"width":234,"transform":[{"filter":"datum.v=='X5'"}],"mark":{"type":"rect","color":"#228B22"},"encoding":{"x":{"field":"x0","type":"quantitative","title":null,"scale":{"domain":[2.82,11.18]},"axis":{"values":[5,10],"format":"d"}},"x2":{"field":"x1"},"y":{"field":"c","type":"quantitative","title":null,"scale":{"domain":[0,236.25]},"axis":{"values":[0,100,200]}}}},
{"data":{"name":"d"},"title":{"text":"X6","fontSize":32},"width":234,"transform":[{"filter":"datum.v=='X6'"}],"mark":{"type":"rect","color":"#228B22"},"encoding":{"x":{"field":"x0","type":"quantitative","title":null,"scale":{"domain":[21.4,113.8]},"axis":{"values":[50,100],"format":"d"}},"x2":{"field":"x1"},"y":{"field":"c","type":"quantitative","title":null,"scale":{"domain":[0,221.55]},"axis":{"values":[0,100,200]}}}},
{"data":{"name":"d"},"title":{"text":"X7","fontSize":32},"width":234,"transform":[{"filter":"datum.v=='X7'"}],"mark":{"type":"rect","color":"#228B22"},"encoding":{"x":{"field":"x0","type":"quantitative","title":null,"scale":{"domain":[20.03,61.17]},"axis":{"values":[40,60],"format":"d"}},"x2":{"field":"x1"},"y":{"field":"c","type":"quantitative","title":null,"scale":{"domain":[0,245.7]},"axis":{"values":[0,100,200]}}}},
{"data":{"name":"d"},"title":{"text":"X8","fontSize":32},"width":234,"transform":[{"filter":"datum.v=='X8'"}],"mark":{"type":"rect","color":"#228B22"},"encoding":{"x":{"field":"x0","type":"quantitative","title":null,"scale":{"domain":[0.3152,0.4428]},"axis":{"values":[0.35,0.4],"format":".2f"}},"x2":{"field":"x1"},"y":{"field":"c","type":"quantitative","title":null,"scale":{"domain":[0,245.7]},"axis":{"values":[0,100,200]}}}},
{"data":{"name":"d"},"title":{"text":"X9","fontSize":32},"width":234,"transform":[{"filter":"datum.v=='X9'"}],"mark":{"type":"rect","color":"#228B22"},"encoding":{"x":{"field":"x0","type":"quantitative","title":null,"scale":{"domain":[1.40675,1.52225]},"axis":{"values":[1.45,1.5],"format":".2f"}},"x2":{"field":"x1"},"y":{"field":"c","type":"quantitative","title":null,"scale":{"domain":[0,245.7]},"axis":{"values":[0,100,200]}}}},
{"data":{"name":"d"},"title":{"text":"X10","fontSize":32},"width":234,"transform":[{"filter":"datum.v=='X10'"}],"mark":{"type":"rect","color":"#228B22"},"encoding":{"x":{"field":"x0","type":"quantitative","title":null,"scale":{"domain":[-0.00055,0.02035]},"axis":{"values":[0,0.01,0.02],"format":".2f"}},"x2":{"field":"x1"},"y":{"field":"c","type":"quantitative","title":null,"scale":{"domain":[0,247.8]},"axis":{"values":[0,100,200]}}}},
{"data":{"name":"d"},"title":{"text":"X11","fontSize":32},"width":234,"transform":[{"filter":"datum.v=='X11'"}],"mark":{"type":"rect","color":"#228B22"},"encoding":{"x":{"field":"x0","type":"quantitative","title":null,"scale":{"domain":[32.69,50.51]},"axis":{"values":[40,50],"format":"d"}},"x2":{"field":"x1"},"y":{"field":"c","type":"quantitative","title":null,"scale":{"domain":[0,260.4]},"axis":{"values":[0,100,200]}}}},
{"data":{"name":"d"},"title":{"text":"X12","fontSize":32},"width":234,"transform":[{"filter":"datum.v=='X12'"}],"mark":{"type":"rect","color":"#228B22"},"encoding":{"x":{"field":"x0","type":"quantitative","title":null,"scale":{"domain":[49.8955,50.1045]},"axis":{"values":[49.9,50,50.1],"format":".1f"}},"x2":{"field":"x1"},"y":{"field":"c","type":"quantitative","title":null,"scale":{"domain":[0,295.05]},"axis":{"values":[0,100,200]}}}},
{"data":{"name":"d"},"title":{"text":"X13","fontSize":32},"width":234,"transform":[{"filter":"datum.v=='X13'"}],"mark":{"type":"rect","color":"#228B22"},"encoding":{"x":{"field":"x0","type":"quantitative","title":null,"scale":{"domain":[6.53825,6.64275]},"axis":{"values":[6.55,6.6],"format":".2f"}},"x2":{"field":"x1"},"y":{"field":"c","type":"quantitative","title":null,"scale":{"domain":[0,232.05]},"axis":{"values":[0,100,200]}}}},
{"data":{"name":"d"},"title":{"text":"X14","fontSize":32},"width":234,"transform":[{"filter":"datum.v=='X14'"}],"mark":{"type":"rect","color":"#228B22"},"encoding":{"x":{"field":"x0","type":"quantitative","title":null,"scale":{"domain":[2.33775,2.45325]},"axis":{"values":[2.35,2.4,2.45],"format":".2f"}},"x2":{"field":"x1"},"y":{"field":"c","type":"quantitative","title":null,"scale":{"domain":[0,254.1]},"axis":{"values":[0,100,200]}}}},
{"data":{"name":"d"},"title":{"text":"X15","fontSize":32},"width":234,"transform":[{"filter":"datum.v=='X15'"}],"mark":{"type":"rect","color":"#228B22"},"encoding":{"x":{"field":"x0","type":"quantitative","title":null,"scale":{"domain":[222.9825,224.0275]},"axis":{"values":[223,223.5,224],"format":".1f"}},"x2":{"field":"x1"},"y":{"field":"c","type":"quantitative","title":null,"scale":{"domain":[0,250.95]},"axis":{"values":[0,100,200]}}}},
{"data":{"name":"d"},"title":{"text":"X16","fontSize":32},"width":234,"transform":[{"filter":"datum.v=='X16'"}],"mark":{"type":"rect","color":"#228B22"},"encoding":{"x":{"field":"x0","type":"quantitative","title":null,"scale":{"domain":[219.972,221.028]},"axis":{"values":[220,220.5,221],"format":".1f"}},"x2":{"field":"x1"},"y":{"field":"c","type":"quantitative","title":null,"scale":{"domain":[0,249.9]},"axis":{"values":[0,100,200]}}}},
{"data":{"name":"d"},"title":{"text":"X17","fontSize":32},"width":234,"transform":[{"filter":"datum.v=='X17'"}],"mark":{"type":"rect","color":"#228B22"},"encoding":{"x":{"field":"x0","type":"quantitative","title":null,"scale":{"domain":[1.1926,1.5094]},"axis":{"values":[1.2,1.4],"format":".1f"}},"x2":{"field":"x1"},"y":{"field":"c","type":"quantitative","title":null,"scale":{"domain":[0,236.25]},"axis":{"values":[0,100,200]}}}},
{"data":{"name":"d"},"title":{"text":"X18","fontSize":32},"width":234,"transform":[{"filter":"datum.v=='X18'"}],"mark":{"type":"rect","color":"#228B22"},"encoding":{"x":{"field":"x0","type":"quantitative","title":null,"scale":{"domain":[12.847,17.093]},"axis":{"values":[14,16],"format":"d"}},"x2":{"field":"x1"},"y":{"field":"c","type":"quantitative","title":null,"scale":{"domain":[0,260.4]},"axis":{"values":[0,100,200]}}}},
{"data":{"name":"d"},"title":{"text":"X19","fontSize":32},"width":234,"transform":[{"filter":"datum.v=='X19'"}],"mark":{"type":"rect","color":"#228B22"},"encoding":{"x":{"field":"x0","type":"quantitative","title":null,"scale":{"domain":[47.871,54.229]},"axis":{"values":[50,52.5],"format":".1f"}},"x2":{"field":"x1"},"y":{"field":"c","type":"quantitative","title":null,"scale":{"domain":[0,226.8]},"axis":{"values":[0,100,200]}}}},
{"data":{"name":"d"},"title":{"text":"X20","fontSize":32},"width":234,"transform":[{"filter":"datum.v=='X20'"}],"mark":{"type":"rect","color":"#228B22"},"encoding":{"x":{"field":"x0","type":"quantitative","title":null,"scale":{"domain":[-0.047,1.427]},"axis":{"values":[0,0.5,1],"format":".1f"}},"x2":{"field":"x1"},"y":{"field":"c","type":"quantitative","title":null,"scale":{"domain":[0,228.9]},"axis":{"values":[0,100,200]}}}},
{"data":{"name":"d"},"title":{"text":"X21","fontSize":32},"width":234,"transform":[{"filter":"datum.v=='X21'"}],"mark":{"type":"rect","color":"#228B22"},"encoding":{"x":{"field":"x0","type":"quantitative","title":null,"scale":{"domain":[-0.55,0.55]},"axis":{"values":[-0.5,0,0.5],"format":".1f"}},"x2":{"field":"x1"},"y":{"field":"c","type":"quantitative","title":null,"scale":{"domain":[0,1470]},"axis":{"values":[0,500,1000],"format":"d"}}}},
{"data":{"name":"d"},"title":{"text":"X22","fontSize":32},"width":234,"transform":[{"filter":"datum.v=='X22'"}],"mark":{"type":"rect","color":"#228B22"},"encoding":{"x":{"field":"x0","type":"quantitative","title":null,"scale":{"domain":[-0.55,0.55]},"axis":{"values":[-0.5,0,0.5],"format":".1f"}},"x2":{"field":"x1"},"y":{"field":"c","type":"quantitative","title":null,"scale":{"domain":[0,1470]},"axis":{"values":[0,500,1000],"format":"d"}}}},
{"data":{"name":"d"},"title":{"text":"X23","fontSize":32},"width":234,"transform":[{"filter":"datum.v=='X23'"}],"mark":{"type":"rect","color":"#228B22"},"encoding":{"x":{"field":"x0","type":"quantitative","title":null,"scale":{"domain":[43.81,50.19]},"axis":{"values":[45,47.5,50],"format":".1f"}},"x2":{"field":"x1"},"y":{"field":"c","type":"quantitative","title":null,"scale":{"domain":[0,282.45]},"axis":{"values":[0,100,200]}}}},
{"data":{"name":"d"},"title":{"text":"X24","fontSize":32},"width":234,"transform":[{"filter":"datum.v=='X24'"}],"mark":{"type":"rect","color":"#228B22"},"encoding":{"x":{"field":"x0","type":"quantitative","title":null,"scale":{"domain":[20.947,22.993]},"axis":{"values":[21,22,23],"format":"d"}},"x2":{"field":"x1"},"y":{"field":"c","type":"quantitative","title":null,"scale":{"domain":[0,247.8]},"axis":{"values":[0,100,200]}}}}
],"columns":5,"spacing":{"row":73,"column":83},"bounds":"flush",
"title":{"text":"(d)","orient":"bottom","anchor":"middle","font":"Liberation Serif","fontSize":86,"fontWeight":"bold","baseline":"alphabetic","offset":100}}
],"spacing":212}
],
"spacing":12,
"config":{
"view":{"stroke":"#1a1a1a","strokeWidth":1.5,"continuousHeight":206},
"axis":{"labelFont":"Liberation Sans","labelFontSize":21,"labelColor":"#000","tickColor":"#000","tickSize":6,"tickWidth":1.2,"domain":false,"grid":true,"gridColor":"#c4c4c4","gridWidth":1.4,"zindex":1,"labelPadding":3,"labelFlush":false,"labelOverlap":false},
"title":{"font":"Liberation Serif","fontSize":43,"fontWeight":"normal","color":"#000","offset":0,"baseline":"alphabetic"},
"style":{"group-title":{"font":"Liberation Serif","fontSize":43,"fontWeight":"normal","color":"#000"}}
}
}
